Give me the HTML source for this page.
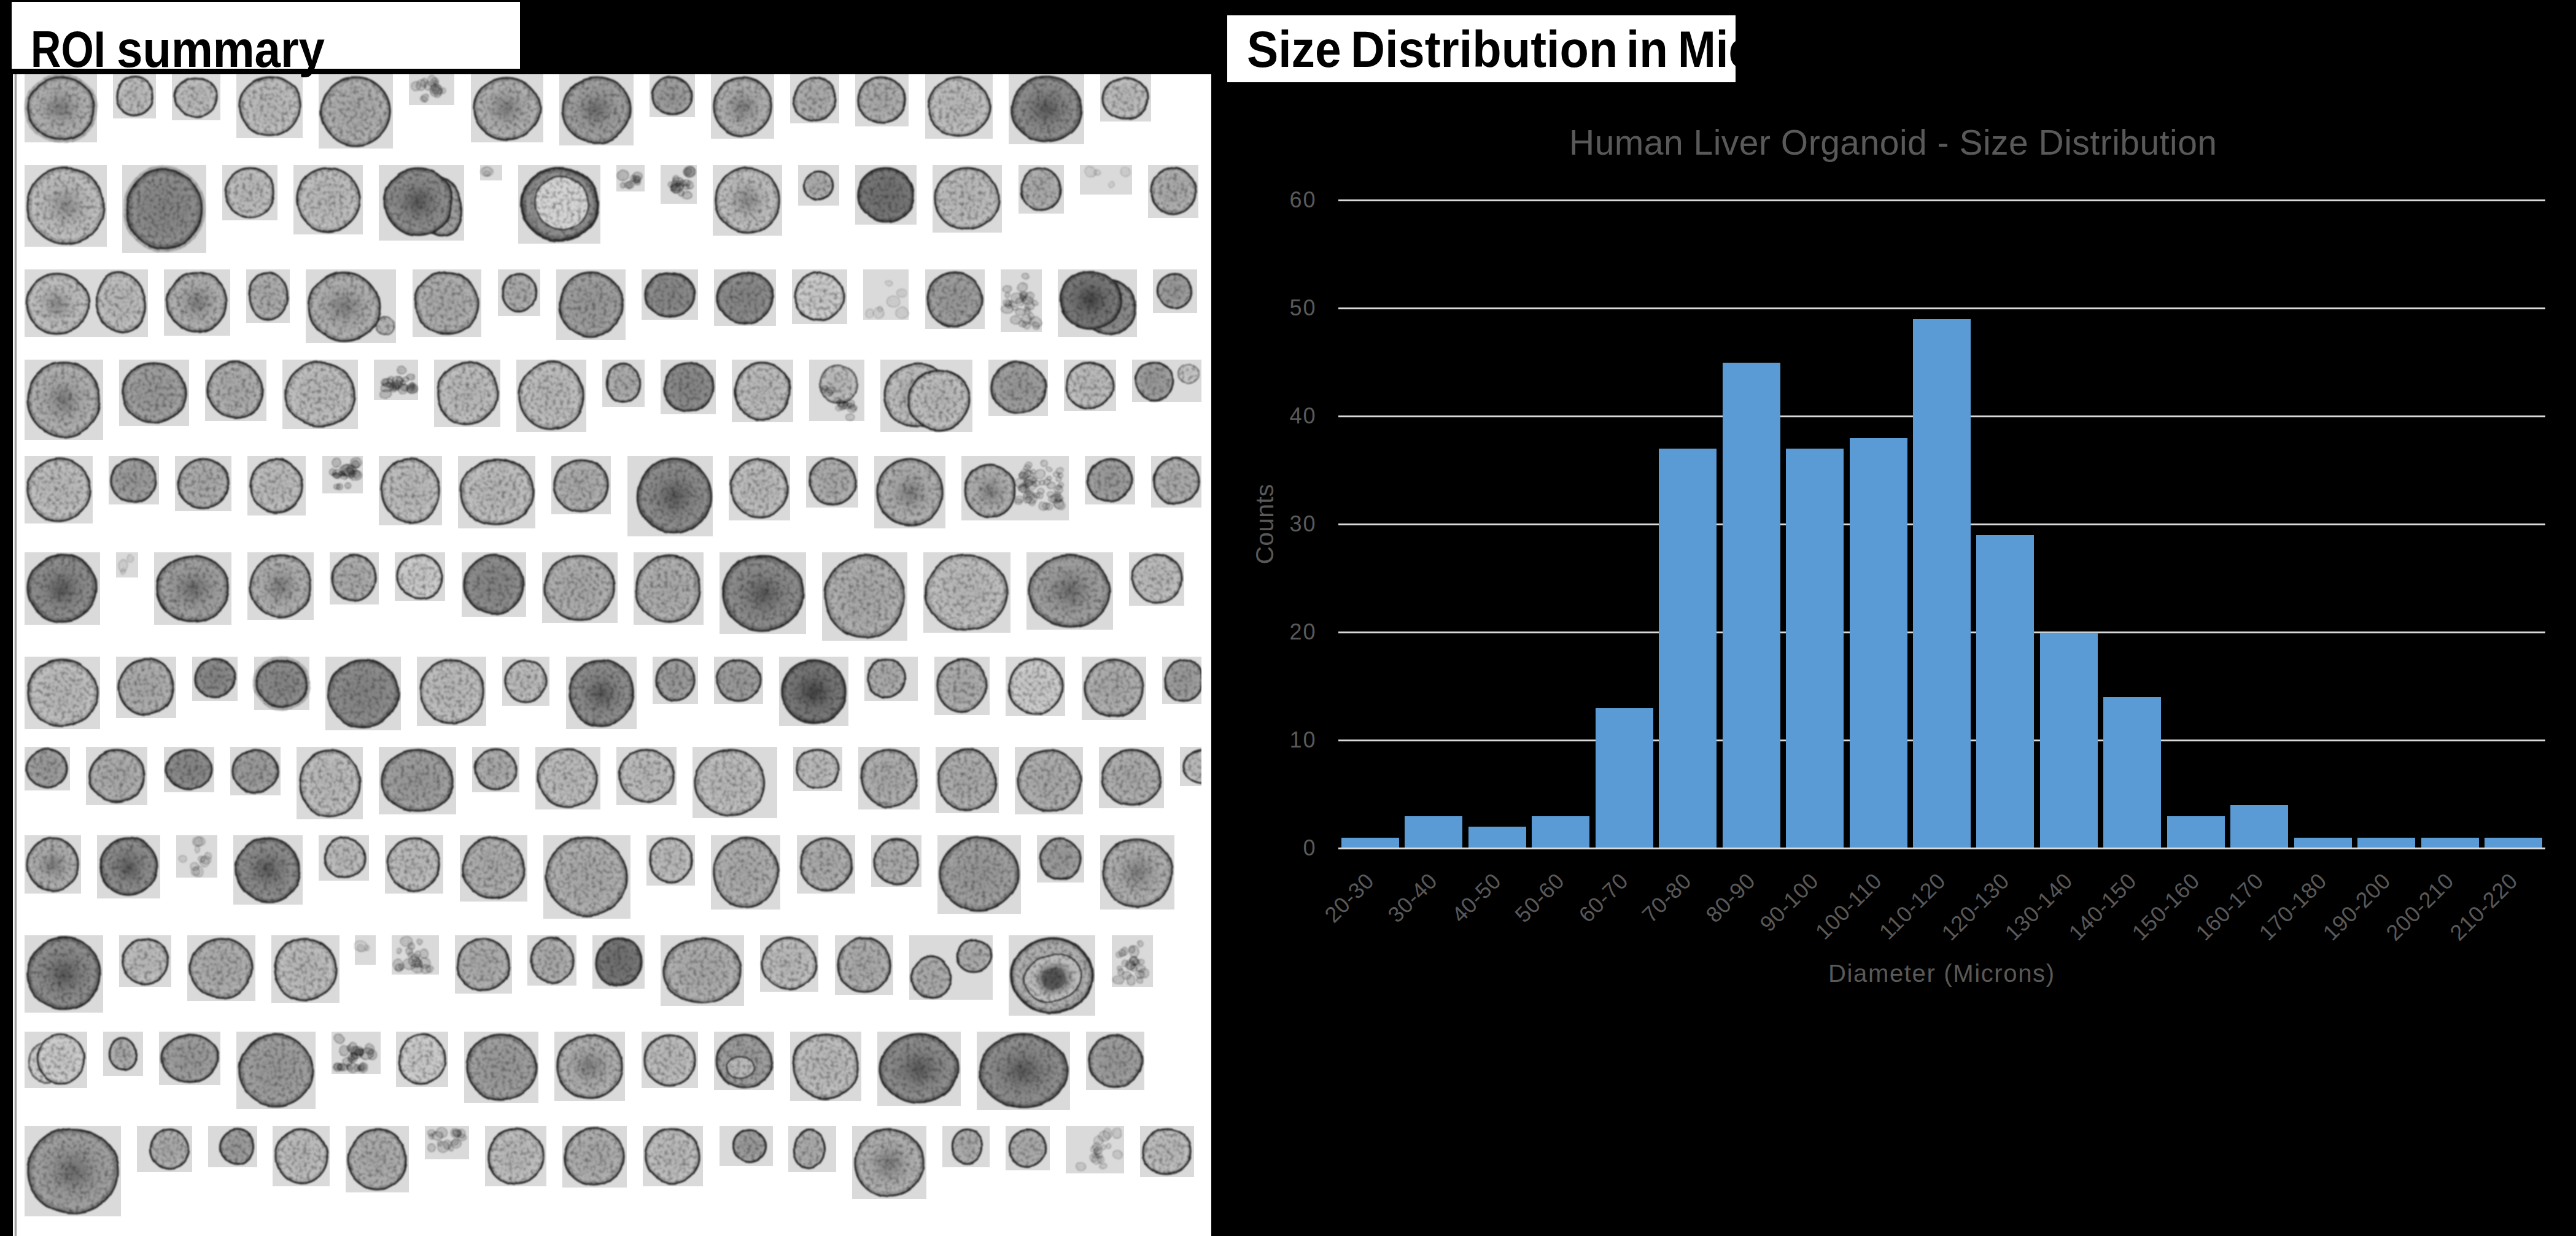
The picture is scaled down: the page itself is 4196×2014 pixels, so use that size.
<!DOCTYPE html>
<html><head><meta charset="utf-8"><title>ROI summary</title>
<style>
html,body{margin:0;padding:0;background:#000;}
body{width:4196px;height:2014px;position:relative;overflow:hidden;font-family:"Liberation Sans",sans-serif;}
.abs{position:absolute}
#roibox{position:absolute;left:19px;top:3px;width:828px;height:109px;background:#fff}
#panel{position:absolute;left:21px;top:121px;width:1952px;height:1893px;background:#fff}
#vline{position:absolute;left:22px;top:121px;width:5px;height:1893px;background:linear-gradient(90deg,#fff 0,#d8d8d8 35%,#9c9c9c 62%,#999 90%,#e8e8e8 100%)}
#roitxt{position:absolute;left:50px;top:0;font-weight:bold;font-size:81px;line-height:113px;white-space:nowrap;color:#000;transform-origin:0 0;transform:scaleX(.9097);top:24.8px}
#sdbox{position:absolute;left:1999px;top:25px;width:828px;height:109px;background:#fff;overflow:hidden}
#sdtxt{position:absolute;left:32px;top:-1px;font-weight:bold;font-size:83px;line-height:113px;white-space:nowrap;color:#000;transform-origin:0 0;transform:scaleX(.906)}
#ctitle{position:absolute;left:2556px;top:194px;letter-spacing:.49px;font-size:57px;line-height:76px;color:#595959;white-space:nowrap;transform-origin:0 0}
.hw{position:absolute;font-weight:bold;font-size:83px;line-height:113px;white-space:nowrap;color:#000;transform-origin:0 0}
.gl{position:absolute;left:2180px;width:1966px;height:3px;background:#d9d9d9}
.yl{position:absolute;left:2044.5px;width:100px;text-align:right;letter-spacing:2px;font-size:36px;line-height:48px;color:#595959}
.bar{position:absolute;background:#5b9bd5}
.xl{position:absolute;letter-spacing:.8px;font-size:36px;line-height:40px;color:#595959;white-space:nowrap;transform-origin:100% 50%;transform:rotate(-45deg)}
#xt{position:absolute;left:2978px;top:1558.5px;letter-spacing:1.65px;font-size:40px;line-height:54px;color:#595959;white-space:nowrap;transform-origin:0 0}
#yt{position:absolute;left:2059.5px;top:854px;letter-spacing:.2px;font-size:41px;line-height:54px;color:#595959;white-space:nowrap;transform:translate(-50%,-50%) rotate(-90deg)}
</style></head><body>
<div id="roibox"></div>
<div id="panel"></div>
<div id="vline"></div>
<svg class="abs" style="left:0;top:0" width="1980" height="2014" viewBox="0 0 1980 2014">
<defs><radialGradient id="g0"><stop offset="0" stop-color="#c2c2c2"/><stop offset=".6" stop-color="#c8c8c8"/><stop offset=".86" stop-color="#d0d0d0"/><stop offset=".95" stop-color="#aaaaaa"/><stop offset="1" stop-color="#8c8c8c"/></radialGradient><radialGradient id="c0"><stop offset="0" stop-color="#969696"/><stop offset=".22" stop-color="#aaaaaa"/><stop offset=".5" stop-color="#c2c2c2"/><stop offset=".86" stop-color="#d0d0d0"/><stop offset=".95" stop-color="#aaaaaa"/><stop offset="1" stop-color="#8c8c8c"/></radialGradient><radialGradient id="g1"><stop offset="0" stop-color="#b3b3b3"/><stop offset=".6" stop-color="#b9b9b9"/><stop offset=".86" stop-color="#c1c1c1"/><stop offset=".95" stop-color="#9b9b9b"/><stop offset="1" stop-color="#7d7d7d"/></radialGradient><radialGradient id="c1"><stop offset="0" stop-color="#878787"/><stop offset=".22" stop-color="#9b9b9b"/><stop offset=".5" stop-color="#b3b3b3"/><stop offset=".86" stop-color="#c1c1c1"/><stop offset=".95" stop-color="#9b9b9b"/><stop offset="1" stop-color="#7d7d7d"/></radialGradient><radialGradient id="g2"><stop offset="0" stop-color="#a4a4a4"/><stop offset=".6" stop-color="#aaaaaa"/><stop offset=".86" stop-color="#b2b2b2"/><stop offset=".95" stop-color="#8c8c8c"/><stop offset="1" stop-color="#6e6e6e"/></radialGradient><radialGradient id="c2"><stop offset="0" stop-color="#787878"/><stop offset=".22" stop-color="#8c8c8c"/><stop offset=".5" stop-color="#a4a4a4"/><stop offset=".86" stop-color="#b2b2b2"/><stop offset=".95" stop-color="#8c8c8c"/><stop offset="1" stop-color="#6e6e6e"/></radialGradient><radialGradient id="g3"><stop offset="0" stop-color="#949494"/><stop offset=".6" stop-color="#9a9a9a"/><stop offset=".86" stop-color="#a2a2a2"/><stop offset=".95" stop-color="#7c7c7c"/><stop offset="1" stop-color="#5e5e5e"/></radialGradient><radialGradient id="c3"><stop offset="0" stop-color="#686868"/><stop offset=".22" stop-color="#7c7c7c"/><stop offset=".5" stop-color="#949494"/><stop offset=".86" stop-color="#a2a2a2"/><stop offset=".95" stop-color="#7c7c7c"/><stop offset="1" stop-color="#5e5e5e"/></radialGradient><radialGradient id="g4"><stop offset="0" stop-color="#818181"/><stop offset=".6" stop-color="#878787"/><stop offset=".86" stop-color="#8f8f8f"/><stop offset=".95" stop-color="#696969"/><stop offset="1" stop-color="#4b4b4b"/></radialGradient><radialGradient id="c4"><stop offset="0" stop-color="#555555"/><stop offset=".22" stop-color="#696969"/><stop offset=".5" stop-color="#818181"/><stop offset=".86" stop-color="#8f8f8f"/><stop offset=".95" stop-color="#696969"/><stop offset="1" stop-color="#4b4b4b"/></radialGradient><radialGradient id="g5"><stop offset="0" stop-color="#6c6c6c"/><stop offset=".6" stop-color="#727272"/><stop offset=".86" stop-color="#7a7a7a"/><stop offset=".95" stop-color="#545454"/><stop offset="1" stop-color="#363636"/></radialGradient><radialGradient id="c5"><stop offset="0" stop-color="#404040"/><stop offset=".22" stop-color="#545454"/><stop offset=".5" stop-color="#6c6c6c"/><stop offset=".86" stop-color="#7a7a7a"/><stop offset=".95" stop-color="#545454"/><stop offset="1" stop-color="#363636"/></radialGradient><radialGradient id="blob"><stop offset="0" stop-color="#000" stop-opacity=".55"/><stop offset=".6" stop-color="#000" stop-opacity=".3"/><stop offset="1" stop-color="#000" stop-opacity="0"/></radialGradient><filter id="grain" x="0" y="0" width="100%" height="100%" filterUnits="userSpaceOnUse" color-interpolation-filters="sRGB">
<feTurbulence type="fractalNoise" baseFrequency="0.018" numOctaves="2" seed="11" result="lf"/>
<feDisplacementMap in="SourceGraphic" in2="lf" scale="7" xChannelSelector="R" yChannelSelector="G" result="sg"/>
<feTurbulence type="fractalNoise" baseFrequency="0.17" numOctaves="3" seed="3" result="n"/>
<feColorMatrix in="n" type="matrix" values="1.0 0 0 0 0.45  1.0 0 0 0 0.45  1.0 0 0 0 0.45  0 0 0 0 1" result="gn"/>
<feComposite in="gn" in2="sg" operator="in" result="gn2"/>
<feBlend in="sg" in2="gn2" mode="multiply" result="m"/>
<feGaussianBlur in="m" stdDeviation="0.9"/>
</filter><clipPath id="pc"><rect x="21" y="121" width="1936" height="1893"/></clipPath></defs>
<g clip-path="url(#pc)"><g fill="#dadada"><rect x="40" y="121" width="118" height="111"/><rect x="184" y="121" width="70" height="72"/><rect x="280" y="121" width="79" height="75"/><rect x="385" y="121" width="108" height="104"/><rect x="519" y="121" width="121" height="121"/><rect x="666" y="121" width="74" height="50"/><rect x="767" y="121" width="118" height="111"/><rect x="911" y="121" width="121" height="116"/><rect x="1058" y="121" width="74" height="70"/><rect x="1158" y="121" width="103" height="105"/><rect x="1287" y="121" width="80" height="80"/><rect x="1393" y="121" width="87" height="85"/><rect x="1507" y="121" width="110" height="105"/><rect x="1643" y="121" width="123" height="114"/><rect x="1792" y="121" width="83" height="77"/><rect x="40" y="269" width="134" height="133"/><rect x="199" y="269" width="137" height="143"/><rect x="362" y="269" width="90" height="90"/><rect x="478" y="269" width="113" height="113"/><rect x="617" y="269" width="139" height="123"/><rect x="782" y="269" width="36" height="25"/><rect x="844" y="269" width="134" height="128"/><rect x="1004" y="269" width="46" height="43"/><rect x="1076" y="269" width="59" height="63"/><rect x="1161" y="269" width="113" height="115"/><rect x="1300" y="269" width="67" height="66"/><rect x="1393" y="269" width="100" height="97"/><rect x="1519" y="269" width="113" height="110"/><rect x="1659" y="269" width="74" height="79"/><rect x="1759" y="269" width="85" height="48"/><rect x="1870" y="269" width="82" height="86"/><rect x="40" y="439" width="201" height="110"/><rect x="267" y="439" width="108" height="108"/><rect x="401" y="439" width="71" height="87"/><rect x="498" y="439" width="147" height="120"/><rect x="672" y="439" width="112" height="110"/><rect x="811" y="439" width="69" height="76"/><rect x="906" y="439" width="113" height="115"/><rect x="1045" y="439" width="92" height="82"/><rect x="1163" y="439" width="101" height="92"/><rect x="1290" y="439" width="90" height="89"/><rect x="1406" y="439" width="74" height="82"/><rect x="1507" y="439" width="97" height="97"/><rect x="1630" y="439" width="67" height="102"/><rect x="1723" y="439" width="129" height="110"/><rect x="1878" y="439" width="72" height="71"/><rect x="40" y="586" width="128" height="131"/><rect x="194" y="586" width="114" height="108"/><rect x="334" y="586" width="100" height="100"/><rect x="460" y="586" width="123" height="113"/><rect x="609" y="586" width="72" height="66"/><rect x="707" y="586" width="108" height="110"/><rect x="841" y="586" width="114" height="118"/><rect x="981" y="586" width="69" height="77"/><rect x="1076" y="586" width="90" height="89"/><rect x="1192" y="586" width="100" height="102"/><rect x="1318" y="586" width="90" height="100"/><rect x="1434" y="586" width="150" height="118"/><rect x="1610" y="586" width="97" height="92"/><rect x="1733" y="586" width="85" height="84"/><rect x="1844" y="586" width="113" height="69"/><rect x="40" y="743" width="111" height="110"/><rect x="177" y="743" width="82" height="79"/><rect x="285" y="743" width="92" height="90"/><rect x="403" y="743" width="95" height="97"/><rect x="525" y="743" width="66" height="61"/><rect x="617" y="743" width="103" height="113"/><rect x="746" y="743" width="126" height="118"/><rect x="898" y="743" width="97" height="95"/><rect x="1022" y="743" width="139" height="131"/><rect x="1187" y="743" width="100" height="105"/><rect x="1313" y="743" width="85" height="84"/><rect x="1424" y="743" width="116" height="118"/><rect x="1566" y="743" width="175" height="105"/><rect x="1767" y="743" width="82" height="79"/><rect x="1875" y="743" width="82" height="84"/><rect x="40" y="900" width="123" height="118"/><rect x="189" y="900" width="36" height="41"/><rect x="251" y="900" width="126" height="118"/><rect x="403" y="900" width="108" height="110"/><rect x="537" y="900" width="80" height="85"/><rect x="643" y="900" width="82" height="79"/><rect x="752" y="900" width="105" height="105"/><rect x="883" y="900" width="123" height="115"/><rect x="1032" y="900" width="114" height="118"/><rect x="1172" y="900" width="141" height="133"/><rect x="1339" y="900" width="139" height="144"/><rect x="1504" y="900" width="142" height="131"/><rect x="1672" y="900" width="141" height="126"/><rect x="1839" y="900" width="90" height="87"/><rect x="40" y="1070" width="123" height="118"/><rect x="189" y="1070" width="98" height="100"/><rect x="313" y="1070" width="74" height="72"/><rect x="414" y="1070" width="90" height="87"/><rect x="530" y="1070" width="123" height="120"/><rect x="679" y="1070" width="113" height="113"/><rect x="818" y="1070" width="77" height="80"/><rect x="922" y="1070" width="115" height="118"/><rect x="1063" y="1070" width="74" height="77"/><rect x="1163" y="1070" width="80" height="77"/><rect x="1269" y="1070" width="113" height="113"/><rect x="1408" y="1070" width="87" height="72"/><rect x="1522" y="1070" width="90" height="95"/><rect x="1638" y="1070" width="97" height="97"/><rect x="1762" y="1070" width="105" height="103"/><rect x="1893" y="1070" width="70" height="77"/><rect x="40" y="1217" width="74" height="71"/><rect x="140" y="1217" width="100" height="95"/><rect x="267" y="1217" width="82" height="74"/><rect x="375" y="1217" width="82" height="79"/><rect x="483" y="1217" width="108" height="118"/><rect x="617" y="1217" width="126" height="110"/><rect x="769" y="1217" width="77" height="74"/><rect x="872" y="1217" width="106" height="102"/><rect x="1004" y="1217" width="98" height="95"/><rect x="1128" y="1217" width="138" height="116"/><rect x="1292" y="1217" width="80" height="72"/><rect x="1398" y="1217" width="100" height="102"/><rect x="1524" y="1217" width="103" height="108"/><rect x="1653" y="1217" width="111" height="110"/><rect x="1790" y="1217" width="106" height="100"/><rect x="1922" y="1217" width="80" height="64"/><rect x="40" y="1361" width="92" height="95"/><rect x="158" y="1361" width="103" height="103"/><rect x="287" y="1361" width="67" height="69"/><rect x="380" y="1361" width="113" height="113"/><rect x="519" y="1361" width="82" height="74"/><rect x="627" y="1361" width="95" height="95"/><rect x="749" y="1361" width="110" height="108"/><rect x="885" y="1361" width="142" height="136"/><rect x="1053" y="1361" width="79" height="82"/><rect x="1158" y="1361" width="113" height="121"/><rect x="1298" y="1361" width="95" height="95"/><rect x="1419" y="1361" width="82" height="84"/><rect x="1527" y="1361" width="136" height="128"/><rect x="1689" y="1361" width="77" height="77"/><rect x="1792" y="1361" width="121" height="121"/><rect x="40" y="1524" width="128" height="126"/><rect x="194" y="1524" width="85" height="84"/><rect x="305" y="1524" width="111" height="107"/><rect x="442" y="1524" width="111" height="110"/><rect x="578" y="1524" width="34" height="48"/><rect x="638" y="1524" width="77" height="64"/><rect x="741" y="1524" width="93" height="95"/><rect x="859" y="1524" width="80" height="82"/><rect x="965" y="1524" width="85" height="87"/><rect x="1076" y="1524" width="136" height="115"/><rect x="1238" y="1524" width="95" height="92"/><rect x="1360" y="1524" width="95" height="97"/><rect x="1481" y="1524" width="136" height="105"/><rect x="1643" y="1524" width="141" height="131"/><rect x="1811" y="1524" width="67" height="84"/><rect x="40" y="1681" width="102" height="92"/><rect x="168" y="1681" width="65" height="72"/><rect x="259" y="1681" width="100" height="87"/><rect x="385" y="1681" width="129" height="126"/><rect x="540" y="1681" width="80" height="69"/><rect x="645" y="1681" width="85" height="90"/><rect x="756" y="1681" width="121" height="116"/><rect x="903" y="1681" width="115" height="113"/><rect x="1045" y="1681" width="92" height="92"/><rect x="1163" y="1681" width="98" height="95"/><rect x="1287" y="1681" width="116" height="113"/><rect x="1429" y="1681" width="136" height="121"/><rect x="1591" y="1681" width="152" height="128"/><rect x="1769" y="1681" width="95" height="95"/><rect x="40" y="1835" width="157" height="147"/><rect x="223" y="1835" width="90" height="75"/><rect x="339" y="1835" width="80" height="67"/><rect x="444" y="1835" width="93" height="98"/><rect x="563" y="1835" width="103" height="108"/><rect x="692" y="1835" width="72" height="54"/><rect x="790" y="1835" width="100" height="98"/><rect x="916" y="1835" width="105" height="100"/><rect x="1047" y="1835" width="98" height="98"/><rect x="1172" y="1835" width="87" height="65"/><rect x="1284" y="1835" width="78" height="75"/><rect x="1388" y="1835" width="121" height="119"/><rect x="1535" y="1835" width="77" height="67"/><rect x="1638" y="1835" width="72" height="72"/><rect x="1736" y="1835" width="95" height="77"/><rect x="1857" y="1835" width="88" height="83"/></g><g filter="url(#grain)">
<ellipse cx="99.0" cy="176.5" rx="56.8" ry="53.3" fill="none" stroke="#666" stroke-width="7" opacity=".45"/>
<ellipse cx="99.0" cy="176.5" rx="54.3" ry="50.8" fill="url(#c2)" stroke="#2e2e2e" stroke-width="2.9"/>
<ellipse cx="219.0" cy="157.0" rx="30.3" ry="31.3" fill="url(#g1)" stroke="#2e2e2e" stroke-width="2.9"/>
<ellipse cx="319.5" cy="158.5" rx="34.8" ry="32.8" fill="url(#g1)" stroke="#2e2e2e" stroke-width="2.9"/>
<ellipse cx="439.0" cy="173.0" rx="49.3" ry="47.3" fill="url(#g1)" stroke="#2e2e2e" stroke-width="2.9"/>
<ellipse cx="579.5" cy="181.5" rx="55.8" ry="55.8" fill="url(#g2)" stroke="#2e2e2e" stroke-width="2.9"/>
<ellipse cx="696.9" cy="139.4" rx="6.6" ry="6.7" fill="#000" fill-opacity="0.15" stroke="#000" stroke-opacity="0.27" stroke-width="1.5"/>
<ellipse cx="720.7" cy="148.3" rx="4.3" ry="4.2" fill="#000" fill-opacity="0.15" stroke="#000" stroke-opacity="0.27" stroke-width="1.5"/>
<ellipse cx="707.9" cy="145.4" rx="7.4" ry="6.1" fill="#000" fill-opacity="0.15" stroke="#000" stroke-opacity="0.27" stroke-width="1.5"/>
<ellipse cx="709.9" cy="149.2" rx="9.1" ry="7.1" fill="#000" fill-opacity="0.15" stroke="#000" stroke-opacity="0.27" stroke-width="1.5"/>
<ellipse cx="685.1" cy="137.6" rx="7.3" ry="8.9" fill="#000" fill-opacity="0.15" stroke="#000" stroke-opacity="0.27" stroke-width="1.5"/>
<ellipse cx="710.2" cy="135.5" rx="4.1" ry="4.7" fill="#000" fill-opacity="0.15" stroke="#000" stroke-opacity="0.27" stroke-width="1.5"/>
<ellipse cx="689.2" cy="160.0" rx="5.3" ry="4.9" fill="#000" fill-opacity="0.15" stroke="#000" stroke-opacity="0.27" stroke-width="1.5"/>
<ellipse cx="689.9" cy="134.3" rx="5.6" ry="6.7" fill="#000" fill-opacity="0.15" stroke="#000" stroke-opacity="0.27" stroke-width="1.5"/>
<ellipse cx="712.1" cy="146.2" rx="7.5" ry="7.4" fill="#000" fill-opacity="0.15" stroke="#000" stroke-opacity="0.27" stroke-width="1.5"/>
<ellipse cx="691.7" cy="157.9" rx="6.0" ry="6.3" fill="#000" fill-opacity="0.15" stroke="#000" stroke-opacity="0.27" stroke-width="1.5"/>
<ellipse cx="708.5" cy="132.0" rx="5.7" ry="5.2" fill="#000" fill-opacity="0.15" stroke="#000" stroke-opacity="0.27" stroke-width="1.5"/>
<ellipse cx="677.0" cy="139.3" rx="7.2" ry="7.6" fill="#000" fill-opacity="0.15" stroke="#000" stroke-opacity="0.27" stroke-width="1.5"/>
<ellipse cx="709.7" cy="142.5" rx="7.2" ry="6.1" fill="#000" fill-opacity="0.15" stroke="#000" stroke-opacity="0.27" stroke-width="1.5"/>
<ellipse cx="712.8" cy="154.6" rx="4.8" ry="4.2" fill="#000" fill-opacity="0.15" stroke="#000" stroke-opacity="0.27" stroke-width="1.5"/>
<ellipse cx="703.0" cy="132.0" rx="8.0" ry="8.4" fill="#000" fill-opacity="0.15" stroke="#000" stroke-opacity="0.27" stroke-width="1.5"/>
<ellipse cx="826.0" cy="176.5" rx="54.3" ry="50.8" fill="url(#c2)" stroke="#2e2e2e" stroke-width="2.9"/>
<ellipse cx="971.5" cy="179.0" rx="55.8" ry="53.3" fill="url(#c3)" stroke="#2e2e2e" stroke-width="2.9"/>
<ellipse cx="1095.0" cy="156.0" rx="32.3" ry="30.3" fill="url(#g3)" stroke="#2e2e2e" stroke-width="2.9"/>
<ellipse cx="1209.5" cy="173.5" rx="46.8" ry="47.8" fill="url(#c2)" stroke="#2e2e2e" stroke-width="2.9"/>
<ellipse cx="1327.0" cy="161.0" rx="35.3" ry="35.3" fill="url(#g2)" stroke="#2e2e2e" stroke-width="2.9"/>
<ellipse cx="1436.5" cy="163.5" rx="38.8" ry="37.8" fill="url(#g2)" stroke="#2e2e2e" stroke-width="2.9"/>
<ellipse cx="1562.0" cy="173.5" rx="50.3" ry="47.8" fill="url(#g1)" stroke="#2e2e2e" stroke-width="2.9"/>
<ellipse cx="1704.5" cy="178.0" rx="56.8" ry="52.3" fill="url(#c4)" stroke="#2e2e2e" stroke-width="2.9"/>
<ellipse cx="1833.5" cy="159.5" rx="36.8" ry="33.8" fill="url(#g1)" stroke="#2e2e2e" stroke-width="2.9"/>
<ellipse cx="107.0" cy="335.5" rx="62.3" ry="61.8" fill="url(#c1)" stroke="#2e2e2e" stroke-width="2.9"/>
<ellipse cx="267.5" cy="340.5" rx="63.8" ry="66.8" fill="none" stroke="#666" stroke-width="7" opacity=".45"/>
<ellipse cx="267.5" cy="340.5" rx="61.3" ry="64.3" fill="url(#g4)" stroke="#2e2e2e" stroke-width="2.9"/>
<ellipse cx="407.0" cy="314.0" rx="40.3" ry="40.3" fill="url(#g1)" stroke="#2e2e2e" stroke-width="2.9"/>
<ellipse cx="534.5" cy="325.5" rx="51.8" ry="51.8" fill="url(#g1)" stroke="#2e2e2e" stroke-width="2.9"/>
<ellipse cx="713.0" cy="335.0" rx="38.0" ry="50.0" fill="url(#g3)" stroke="#2e2e2e" stroke-width="2.9" transform="rotate(-20 713.0 335.0)"/>
<ellipse cx="681.0" cy="329.0" rx="55.0" ry="55.0" fill="url(#c4)" stroke="#2e2e2e" stroke-width="2.9"/>
<ellipse cx="793.0" cy="280.0" rx="10.4" ry="8.2" fill="#000" fill-opacity="0.08" stroke="#000" stroke-opacity="0.20" stroke-width="1.5"/>
<ellipse cx="793.0" cy="283.0" rx="5.0" ry="4.3" fill="#000" fill-opacity="0.08" stroke="#000" stroke-opacity="0.20" stroke-width="1.5"/>
<ellipse cx="793.0" cy="280.0" rx="7.6" ry="8.1" fill="#000" fill-opacity="0.08" stroke="#000" stroke-opacity="0.20" stroke-width="1.5"/>
<ellipse cx="911.0" cy="333.0" rx="62.0" ry="59.0" fill="url(#g4)" stroke="#2e2e2e" stroke-width="4"/>
<ellipse cx="915.0" cy="333.0" rx="43.0" ry="44.0" fill="#d4d4d4" stroke="#444" stroke-width="2.5" transform="rotate(-25 911.0 333.0)"/>
<ellipse cx="1038.3" cy="293.3" rx="4.2" ry="4.8" fill="#000" fill-opacity="0.19" stroke="#000" stroke-opacity="0.31" stroke-width="1.5"/>
<ellipse cx="1039.0" cy="298.0" rx="4.3" ry="4.6" fill="#000" fill-opacity="0.19" stroke="#000" stroke-opacity="0.31" stroke-width="1.5"/>
<ellipse cx="1015.0" cy="301.0" rx="4.5" ry="4.4" fill="#000" fill-opacity="0.19" stroke="#000" stroke-opacity="0.31" stroke-width="1.5"/>
<ellipse cx="1015.0" cy="285.1" rx="10.0" ry="8.1" fill="#000" fill-opacity="0.19" stroke="#000" stroke-opacity="0.31" stroke-width="1.5"/>
<ellipse cx="1024.1" cy="301.0" rx="7.2" ry="5.8" fill="#000" fill-opacity="0.19" stroke="#000" stroke-opacity="0.31" stroke-width="1.5"/>
<ellipse cx="1032.3" cy="290.1" rx="4.5" ry="4.9" fill="#000" fill-opacity="0.19" stroke="#000" stroke-opacity="0.31" stroke-width="1.5"/>
<ellipse cx="1027.5" cy="301.0" rx="6.5" ry="6.9" fill="#000" fill-opacity="0.19" stroke="#000" stroke-opacity="0.31" stroke-width="1.5"/>
<ellipse cx="1037.7" cy="291.9" rx="6.3" ry="5.8" fill="#000" fill-opacity="0.19" stroke="#000" stroke-opacity="0.31" stroke-width="1.5"/>
<ellipse cx="1039.0" cy="287.1" rx="7.3" ry="6.6" fill="#000" fill-opacity="0.19" stroke="#000" stroke-opacity="0.31" stroke-width="1.5"/>
<ellipse cx="1124.0" cy="280.5" rx="10.0" ry="8.4" fill="#000" fill-opacity="0.19" stroke="#000" stroke-opacity="0.31" stroke-width="1.5"/>
<ellipse cx="1096.0" cy="305.6" rx="5.0" ry="4.5" fill="#000" fill-opacity="0.19" stroke="#000" stroke-opacity="0.31" stroke-width="1.5"/>
<ellipse cx="1112.1" cy="298.2" rx="4.4" ry="5.0" fill="#000" fill-opacity="0.19" stroke="#000" stroke-opacity="0.31" stroke-width="1.5"/>
<ellipse cx="1104.7" cy="300.2" rx="3.5" ry="4.0" fill="#000" fill-opacity="0.19" stroke="#000" stroke-opacity="0.31" stroke-width="1.5"/>
<ellipse cx="1118.0" cy="304.6" rx="5.1" ry="4.1" fill="#000" fill-opacity="0.19" stroke="#000" stroke-opacity="0.31" stroke-width="1.5"/>
<ellipse cx="1101.1" cy="290.4" rx="5.1" ry="5.3" fill="#000" fill-opacity="0.19" stroke="#000" stroke-opacity="0.31" stroke-width="1.5"/>
<ellipse cx="1102.4" cy="301.8" rx="10.7" ry="8.2" fill="#000" fill-opacity="0.19" stroke="#000" stroke-opacity="0.31" stroke-width="1.5"/>
<ellipse cx="1091.2" cy="299.7" rx="3.8" ry="4.4" fill="#000" fill-opacity="0.19" stroke="#000" stroke-opacity="0.31" stroke-width="1.5"/>
<ellipse cx="1101.1" cy="305.9" rx="7.2" ry="8.1" fill="#000" fill-opacity="0.19" stroke="#000" stroke-opacity="0.31" stroke-width="1.5"/>
<ellipse cx="1124.0" cy="301.4" rx="5.8" ry="6.6" fill="#000" fill-opacity="0.19" stroke="#000" stroke-opacity="0.31" stroke-width="1.5"/>
<ellipse cx="1104.0" cy="295.1" rx="8.6" ry="6.6" fill="#000" fill-opacity="0.19" stroke="#000" stroke-opacity="0.31" stroke-width="1.5"/>
<ellipse cx="1121.4" cy="280.0" rx="5.2" ry="5.3" fill="#000" fill-opacity="0.19" stroke="#000" stroke-opacity="0.31" stroke-width="1.5"/>
<ellipse cx="1119.3" cy="318.5" rx="7.9" ry="6.7" fill="#000" fill-opacity="0.19" stroke="#000" stroke-opacity="0.31" stroke-width="1.5"/>
<ellipse cx="1102.3" cy="305.4" rx="10.4" ry="8.1" fill="#000" fill-opacity="0.19" stroke="#000" stroke-opacity="0.31" stroke-width="1.5"/>
<ellipse cx="1122.6" cy="280.0" rx="9.5" ry="8.1" fill="#000" fill-opacity="0.19" stroke="#000" stroke-opacity="0.31" stroke-width="1.5"/>
<ellipse cx="1109.7" cy="314.1" rx="4.7" ry="5.8" fill="#000" fill-opacity="0.19" stroke="#000" stroke-opacity="0.31" stroke-width="1.5"/>
<ellipse cx="1118.5" cy="298.1" rx="6.1" ry="5.3" fill="#000" fill-opacity="0.19" stroke="#000" stroke-opacity="0.31" stroke-width="1.5"/>
<ellipse cx="1217.5" cy="326.5" rx="51.8" ry="52.8" fill="url(#c1)" stroke="#2e2e2e" stroke-width="2.9"/>
<ellipse cx="1333.5" cy="302.0" rx="23.3" ry="22.8" fill="url(#g2)" stroke="#2e2e2e" stroke-width="2.9"/>
<ellipse cx="1443.0" cy="317.5" rx="45.3" ry="43.8" fill="url(#g5)" stroke="#2e2e2e" stroke-width="2.9"/>
<ellipse cx="1575.5" cy="324.0" rx="51.8" ry="50.3" fill="url(#g1)" stroke="#2e2e2e" stroke-width="2.9"/>
<ellipse cx="1696.0" cy="308.5" rx="32.3" ry="34.8" fill="url(#g2)" stroke="#2e2e2e" stroke-width="2.9"/>
<ellipse cx="1833.0" cy="280.0" rx="8.6" ry="8.8" fill="#000" fill-opacity="0.08" stroke="#000" stroke-opacity="0.20" stroke-width="1.5"/>
<ellipse cx="1810.4" cy="300.7" rx="4.5" ry="5.0" fill="#000" fill-opacity="0.08" stroke="#000" stroke-opacity="0.20" stroke-width="1.5"/>
<ellipse cx="1776.6" cy="280.0" rx="8.5" ry="8.2" fill="#000" fill-opacity="0.08" stroke="#000" stroke-opacity="0.20" stroke-width="1.5"/>
<ellipse cx="1786.8" cy="280.0" rx="5.0" ry="4.4" fill="#000" fill-opacity="0.08" stroke="#000" stroke-opacity="0.20" stroke-width="1.5"/>
<ellipse cx="1911.0" cy="312.0" rx="36.3" ry="38.3" fill="url(#g2)" stroke="#2e2e2e" stroke-width="2.9"/>
<ellipse cx="94.0" cy="495.0" rx="50.0" ry="49.0" fill="url(#c1)" stroke="#2e2e2e" stroke-width="2.9"/>
<ellipse cx="197.0" cy="493.0" rx="40.0" ry="50.0" fill="url(#g1)" stroke="#2e2e2e" stroke-width="2.9" transform="rotate(-12 197.0 493.0)"/>
<ellipse cx="321.0" cy="493.0" rx="49.3" ry="49.3" fill="url(#c2)" stroke="#2e2e2e" stroke-width="2.9"/>
<ellipse cx="436.5" cy="482.5" rx="30.8" ry="38.8" fill="url(#g2)" stroke="#2e2e2e" stroke-width="2.9"/>
<ellipse cx="626.0" cy="531.0" rx="18.0" ry="16.0" fill="url(#blob)" opacity="1"/>
<ellipse cx="626" cy="531" rx="15" ry="14" fill="#b5b5b5" stroke="#666" stroke-width="2"/>
<ellipse cx="561.0" cy="500.0" rx="58.0" ry="56.0" fill="url(#c2)" stroke="#2e2e2e" stroke-width="2.9"/>
<ellipse cx="728.0" cy="494.0" rx="51.3" ry="50.3" fill="url(#g2)" stroke="#2e2e2e" stroke-width="2.9"/>
<ellipse cx="845.5" cy="477.0" rx="27.3" ry="30.8" fill="url(#g2)" stroke="#2e2e2e" stroke-width="2.9"/>
<ellipse cx="962.5" cy="496.5" rx="51.8" ry="52.8" fill="url(#g3)" stroke="#2e2e2e" stroke-width="2.9"/>
<ellipse cx="1091.0" cy="480.0" rx="41.3" ry="36.3" fill="url(#g4)" stroke="#2e2e2e" stroke-width="2.9"/>
<ellipse cx="1213.5" cy="485.0" rx="45.8" ry="41.3" fill="url(#g4)" stroke="#2e2e2e" stroke-width="2.9"/>
<ellipse cx="1335.0" cy="483.5" rx="40.3" ry="39.8" fill="url(#g0)" stroke="#2e2e2e" stroke-width="2.9"/>
<ellipse cx="1447.9" cy="461.3" rx="5.8" ry="4.9" fill="#000" fill-opacity="0.08" stroke="#000" stroke-opacity="0.20" stroke-width="1.5"/>
<ellipse cx="1432.0" cy="510.0" rx="8.8" ry="8.9" fill="#000" fill-opacity="0.08" stroke="#000" stroke-opacity="0.20" stroke-width="1.5"/>
<ellipse cx="1417.0" cy="510.0" rx="6.7" ry="7.6" fill="#000" fill-opacity="0.08" stroke="#000" stroke-opacity="0.20" stroke-width="1.5"/>
<ellipse cx="1454.9" cy="491.8" rx="10.3" ry="8.5" fill="#000" fill-opacity="0.08" stroke="#000" stroke-opacity="0.20" stroke-width="1.5"/>
<ellipse cx="1468.0" cy="510.0" rx="10.0" ry="8.9" fill="#000" fill-opacity="0.08" stroke="#000" stroke-opacity="0.20" stroke-width="1.5"/>
<ellipse cx="1434.6" cy="503.7" rx="3.8" ry="4.7" fill="#000" fill-opacity="0.08" stroke="#000" stroke-opacity="0.20" stroke-width="1.5"/>
<ellipse cx="1469.0" cy="478.5" rx="8.4" ry="6.6" fill="#000" fill-opacity="0.08" stroke="#000" stroke-opacity="0.20" stroke-width="1.5"/>
<ellipse cx="1555.5" cy="487.5" rx="43.8" ry="43.8" fill="url(#g3)" stroke="#2e2e2e" stroke-width="2.9"/>
<ellipse cx="1667.9" cy="481.1" rx="5.0" ry="5.3" fill="#000" fill-opacity="0.15" stroke="#000" stroke-opacity="0.27" stroke-width="1.5"/>
<ellipse cx="1664.1" cy="528.5" rx="5.3" ry="5.3" fill="#000" fill-opacity="0.15" stroke="#000" stroke-opacity="0.27" stroke-width="1.5"/>
<ellipse cx="1686.0" cy="530.0" rx="5.9" ry="5.8" fill="#000" fill-opacity="0.15" stroke="#000" stroke-opacity="0.27" stroke-width="1.5"/>
<ellipse cx="1641.0" cy="469.5" rx="7.7" ry="6.1" fill="#000" fill-opacity="0.15" stroke="#000" stroke-opacity="0.27" stroke-width="1.5"/>
<ellipse cx="1643.0" cy="495.8" rx="5.4" ry="6.6" fill="#000" fill-opacity="0.15" stroke="#000" stroke-opacity="0.27" stroke-width="1.5"/>
<ellipse cx="1653.3" cy="501.8" rx="4.8" ry="4.0" fill="#000" fill-opacity="0.15" stroke="#000" stroke-opacity="0.27" stroke-width="1.5"/>
<ellipse cx="1671.3" cy="520.6" rx="8.2" ry="7.6" fill="#000" fill-opacity="0.15" stroke="#000" stroke-opacity="0.27" stroke-width="1.5"/>
<ellipse cx="1653.9" cy="522.3" rx="8.1" ry="6.8" fill="#000" fill-opacity="0.15" stroke="#000" stroke-opacity="0.27" stroke-width="1.5"/>
<ellipse cx="1679.0" cy="515.5" rx="4.9" ry="5.2" fill="#000" fill-opacity="0.15" stroke="#000" stroke-opacity="0.27" stroke-width="1.5"/>
<ellipse cx="1665.5" cy="467.2" rx="8.0" ry="6.8" fill="#000" fill-opacity="0.15" stroke="#000" stroke-opacity="0.27" stroke-width="1.5"/>
<ellipse cx="1677.6" cy="482.2" rx="7.4" ry="7.1" fill="#000" fill-opacity="0.15" stroke="#000" stroke-opacity="0.27" stroke-width="1.5"/>
<ellipse cx="1641.0" cy="493.2" rx="6.7" ry="6.3" fill="#000" fill-opacity="0.15" stroke="#000" stroke-opacity="0.27" stroke-width="1.5"/>
<ellipse cx="1641.0" cy="504.1" rx="9.3" ry="7.5" fill="#000" fill-opacity="0.15" stroke="#000" stroke-opacity="0.27" stroke-width="1.5"/>
<ellipse cx="1674.4" cy="489.3" rx="8.6" ry="6.8" fill="#000" fill-opacity="0.15" stroke="#000" stroke-opacity="0.27" stroke-width="1.5"/>
<ellipse cx="1667.5" cy="484.8" rx="4.7" ry="4.6" fill="#000" fill-opacity="0.15" stroke="#000" stroke-opacity="0.27" stroke-width="1.5"/>
<ellipse cx="1673.5" cy="504.1" rx="5.0" ry="4.4" fill="#000" fill-opacity="0.15" stroke="#000" stroke-opacity="0.27" stroke-width="1.5"/>
<ellipse cx="1670.0" cy="450.0" rx="5.5" ry="4.8" fill="#000" fill-opacity="0.15" stroke="#000" stroke-opacity="0.27" stroke-width="1.5"/>
<ellipse cx="1658.0" cy="484.6" rx="10.8" ry="8.4" fill="#000" fill-opacity="0.15" stroke="#000" stroke-opacity="0.27" stroke-width="1.5"/>
<ellipse cx="1670.3" cy="530.0" rx="6.3" ry="6.0" fill="#000" fill-opacity="0.15" stroke="#000" stroke-opacity="0.27" stroke-width="1.5"/>
<ellipse cx="1686.0" cy="493.1" rx="4.9" ry="4.8" fill="#000" fill-opacity="0.15" stroke="#000" stroke-opacity="0.27" stroke-width="1.5"/>
<ellipse cx="1648.2" cy="493.9" rx="4.8" ry="5.0" fill="#000" fill-opacity="0.15" stroke="#000" stroke-opacity="0.27" stroke-width="1.5"/>
<ellipse cx="1662.2" cy="491.3" rx="6.9" ry="6.8" fill="#000" fill-opacity="0.15" stroke="#000" stroke-opacity="0.27" stroke-width="1.5"/>
<ellipse cx="1677.1" cy="498.6" rx="7.5" ry="7.1" fill="#000" fill-opacity="0.15" stroke="#000" stroke-opacity="0.27" stroke-width="1.5"/>
<ellipse cx="1686.0" cy="524.0" rx="10.2" ry="7.9" fill="#000" fill-opacity="0.15" stroke="#000" stroke-opacity="0.27" stroke-width="1.5"/>
<ellipse cx="1672.8" cy="507.8" rx="5.0" ry="4.2" fill="#000" fill-opacity="0.15" stroke="#000" stroke-opacity="0.27" stroke-width="1.5"/>
<ellipse cx="1661.7" cy="508.9" rx="7.7" ry="6.1" fill="#000" fill-opacity="0.15" stroke="#000" stroke-opacity="0.27" stroke-width="1.5"/>
<ellipse cx="1668.0" cy="478.9" rx="6.0" ry="4.7" fill="#000" fill-opacity="0.15" stroke="#000" stroke-opacity="0.27" stroke-width="1.5"/>
<ellipse cx="1641.0" cy="479.8" rx="3.7" ry="4.4" fill="#000" fill-opacity="0.15" stroke="#000" stroke-opacity="0.27" stroke-width="1.5"/>
<ellipse cx="1807.0" cy="501.0" rx="42.0" ry="44.0" fill="url(#g4)" stroke="#2e2e2e" stroke-width="2.9"/>
<ellipse cx="1777.0" cy="489.0" rx="50.0" ry="46.0" fill="url(#c5)" stroke="#2e2e2e" stroke-width="2.9"/>
<ellipse cx="1914.0" cy="474.5" rx="27.8" ry="27.3" fill="url(#g3)" stroke="#2e2e2e" stroke-width="2.9"/>
<ellipse cx="104.0" cy="651.5" rx="59.3" ry="60.8" fill="url(#c2)" stroke="#2e2e2e" stroke-width="2.9"/>
<ellipse cx="251.0" cy="640.0" rx="52.3" ry="49.3" fill="url(#g3)" stroke="#2e2e2e" stroke-width="2.9"/>
<ellipse cx="384.0" cy="636.0" rx="45.3" ry="45.3" fill="url(#g2)" stroke="#2e2e2e" stroke-width="2.9"/>
<ellipse cx="521.5" cy="642.5" rx="56.8" ry="51.8" fill="url(#g1)" stroke="#2e2e2e" stroke-width="2.9"/>
<ellipse cx="670.0" cy="634.6" rx="8.6" ry="7.2" fill="#000" fill-opacity="0.19" stroke="#000" stroke-opacity="0.31" stroke-width="1.5"/>
<ellipse cx="670.0" cy="633.9" rx="5.3" ry="4.3" fill="#000" fill-opacity="0.19" stroke="#000" stroke-opacity="0.31" stroke-width="1.5"/>
<ellipse cx="632.1" cy="622.3" rx="8.5" ry="6.8" fill="#000" fill-opacity="0.19" stroke="#000" stroke-opacity="0.31" stroke-width="1.5"/>
<ellipse cx="646.2" cy="626.5" rx="6.1" ry="6.6" fill="#000" fill-opacity="0.19" stroke="#000" stroke-opacity="0.31" stroke-width="1.5"/>
<ellipse cx="655.1" cy="624.2" rx="3.8" ry="4.3" fill="#000" fill-opacity="0.19" stroke="#000" stroke-opacity="0.31" stroke-width="1.5"/>
<ellipse cx="641.6" cy="630.7" rx="7.4" ry="7.8" fill="#000" fill-opacity="0.19" stroke="#000" stroke-opacity="0.31" stroke-width="1.5"/>
<ellipse cx="636.4" cy="618.2" rx="4.6" ry="5.7" fill="#000" fill-opacity="0.19" stroke="#000" stroke-opacity="0.31" stroke-width="1.5"/>
<ellipse cx="647.2" cy="621.0" rx="8.2" ry="7.7" fill="#000" fill-opacity="0.19" stroke="#000" stroke-opacity="0.31" stroke-width="1.5"/>
<ellipse cx="654.4" cy="634.9" rx="7.4" ry="8.7" fill="#000" fill-opacity="0.19" stroke="#000" stroke-opacity="0.31" stroke-width="1.5"/>
<ellipse cx="654.9" cy="602.9" rx="7.9" ry="6.5" fill="#000" fill-opacity="0.19" stroke="#000" stroke-opacity="0.31" stroke-width="1.5"/>
<ellipse cx="631.1" cy="629.9" rx="9.6" ry="7.4" fill="#000" fill-opacity="0.19" stroke="#000" stroke-opacity="0.31" stroke-width="1.5"/>
<ellipse cx="629.2" cy="641.0" rx="8.4" ry="7.5" fill="#000" fill-opacity="0.19" stroke="#000" stroke-opacity="0.31" stroke-width="1.5"/>
<ellipse cx="634.0" cy="626.5" rx="3.7" ry="4.3" fill="#000" fill-opacity="0.19" stroke="#000" stroke-opacity="0.31" stroke-width="1.5"/>
<ellipse cx="670.0" cy="629.4" rx="4.7" ry="5.3" fill="#000" fill-opacity="0.19" stroke="#000" stroke-opacity="0.31" stroke-width="1.5"/>
<ellipse cx="670.0" cy="633.6" rx="9.5" ry="8.4" fill="#000" fill-opacity="0.19" stroke="#000" stroke-opacity="0.31" stroke-width="1.5"/>
<ellipse cx="644.6" cy="629.8" rx="5.6" ry="5.5" fill="#000" fill-opacity="0.19" stroke="#000" stroke-opacity="0.31" stroke-width="1.5"/>
<ellipse cx="657.5" cy="632.6" rx="6.8" ry="5.3" fill="#000" fill-opacity="0.19" stroke="#000" stroke-opacity="0.31" stroke-width="1.5"/>
<ellipse cx="668.6" cy="614.8" rx="6.7" ry="5.2" fill="#000" fill-opacity="0.19" stroke="#000" stroke-opacity="0.31" stroke-width="1.5"/>
<ellipse cx="641.2" cy="632.1" rx="4.0" ry="4.0" fill="#000" fill-opacity="0.19" stroke="#000" stroke-opacity="0.31" stroke-width="1.5"/>
<ellipse cx="627.0" cy="621.2" rx="5.3" ry="5.0" fill="#000" fill-opacity="0.19" stroke="#000" stroke-opacity="0.31" stroke-width="1.5"/>
<ellipse cx="660.7" cy="618.6" rx="4.4" ry="4.4" fill="#000" fill-opacity="0.19" stroke="#000" stroke-opacity="0.31" stroke-width="1.5"/>
<ellipse cx="650.7" cy="619.1" rx="5.1" ry="5.5" fill="#000" fill-opacity="0.19" stroke="#000" stroke-opacity="0.31" stroke-width="1.5"/>
<ellipse cx="761.0" cy="641.0" rx="49.3" ry="50.3" fill="url(#g1)" stroke="#2e2e2e" stroke-width="2.9"/>
<ellipse cx="898.0" cy="645.0" rx="52.3" ry="54.3" fill="url(#g1)" stroke="#2e2e2e" stroke-width="2.9"/>
<ellipse cx="1015.5" cy="624.5" rx="27.3" ry="31.3" fill="url(#g2)" stroke="#2e2e2e" stroke-width="2.9"/>
<ellipse cx="1121.0" cy="630.5" rx="40.3" ry="39.8" fill="url(#g4)" stroke="#2e2e2e" stroke-width="2.9"/>
<ellipse cx="1242.0" cy="637.0" rx="45.3" ry="46.3" fill="url(#g1)" stroke="#2e2e2e" stroke-width="2.9"/>
<ellipse cx="1366.0" cy="626.0" rx="30.0" ry="32.0" fill="url(#g1)" stroke="#555" stroke-width="2.2"/>
<ellipse cx="1372.9" cy="662.4" rx="6.6" ry="5.3" fill="#000" fill-opacity=".12" stroke="#000" stroke-opacity=".3" stroke-width="1.5"/>
<ellipse cx="1386.4" cy="661.0" rx="5.3" ry="4.2" fill="#000" fill-opacity=".12" stroke="#000" stroke-opacity=".3" stroke-width="1.5"/>
<ellipse cx="1385.2" cy="679.8" rx="6.6" ry="5.3" fill="#000" fill-opacity=".12" stroke="#000" stroke-opacity=".3" stroke-width="1.5"/>
<ellipse cx="1351.9" cy="640.8" rx="6.5" ry="5.2" fill="#000" fill-opacity=".12" stroke="#000" stroke-opacity=".3" stroke-width="1.5"/>
<ellipse cx="1385.9" cy="656.8" rx="6.1" ry="4.9" fill="#000" fill-opacity=".12" stroke="#000" stroke-opacity=".3" stroke-width="1.5"/>
<ellipse cx="1374.9" cy="659.8" rx="7.3" ry="5.8" fill="#000" fill-opacity=".12" stroke="#000" stroke-opacity=".3" stroke-width="1.5"/>
<ellipse cx="1380.1" cy="660.9" rx="6.8" ry="5.4" fill="#000" fill-opacity=".12" stroke="#000" stroke-opacity=".3" stroke-width="1.5"/>
<ellipse cx="1345.1" cy="634.0" rx="5.4" ry="4.4" fill="#000" fill-opacity=".12" stroke="#000" stroke-opacity=".3" stroke-width="1.5"/>
<ellipse cx="1355.0" cy="636.9" rx="6.5" ry="5.2" fill="#000" fill-opacity=".12" stroke="#000" stroke-opacity=".3" stroke-width="1.5"/>
<ellipse cx="1377.9" cy="659.0" rx="4.0" ry="3.2" fill="#000" fill-opacity=".12" stroke="#000" stroke-opacity=".3" stroke-width="1.5"/>
<ellipse cx="1387.9" cy="667.0" rx="6.1" ry="4.9" fill="#000" fill-opacity=".12" stroke="#000" stroke-opacity=".3" stroke-width="1.5"/>
<ellipse cx="1367.3" cy="665.4" rx="5.0" ry="4.0" fill="#000" fill-opacity=".12" stroke="#000" stroke-opacity=".3" stroke-width="1.5"/>
<ellipse cx="1342.0" cy="638.9" rx="4.8" ry="3.9" fill="#000" fill-opacity=".12" stroke="#000" stroke-opacity=".3" stroke-width="1.5"/>
<ellipse cx="1389.5" cy="664.2" rx="5.5" ry="4.4" fill="#000" fill-opacity=".12" stroke="#000" stroke-opacity=".3" stroke-width="1.5"/>
<ellipse cx="1370.6" cy="657.9" rx="6.5" ry="5.2" fill="#000" fill-opacity=".12" stroke="#000" stroke-opacity=".3" stroke-width="1.5"/>
<ellipse cx="1366.7" cy="652.9" rx="5.0" ry="4.0" fill="#000" fill-opacity=".12" stroke="#000" stroke-opacity=".3" stroke-width="1.5"/>
<ellipse cx="1496.0" cy="644.0" rx="56.0" ry="52.0" fill="url(#c1)" stroke="#2e2e2e" stroke-width="2.9"/>
<ellipse cx="1530.0" cy="652.0" rx="50.0" ry="49.0" fill="url(#g1)" stroke="#2e2e2e" stroke-width="2.9"/>
<ellipse cx="1658.5" cy="632.0" rx="43.8" ry="41.3" fill="url(#g3)" stroke="#2e2e2e" stroke-width="2.9"/>
<ellipse cx="1775.5" cy="628.0" rx="37.8" ry="37.3" fill="url(#g1)" stroke="#2e2e2e" stroke-width="2.9"/>
<ellipse cx="1880.0" cy="621.0" rx="31.0" ry="31.0" fill="url(#g3)" stroke="#2e2e2e" stroke-width="2.9"/>
<ellipse cx="1936" cy="610" rx="17" ry="15" fill="#c4c4c4" stroke="#777" stroke-width="2"/>
<ellipse cx="95.5" cy="798.0" rx="50.8" ry="50.3" fill="url(#g1)" stroke="#2e2e2e" stroke-width="2.9"/>
<ellipse cx="218.0" cy="782.5" rx="36.3" ry="34.8" fill="url(#g3)" stroke="#2e2e2e" stroke-width="2.9"/>
<ellipse cx="331.0" cy="788.0" rx="41.3" ry="40.3" fill="url(#g2)" stroke="#2e2e2e" stroke-width="2.9"/>
<ellipse cx="450.5" cy="791.5" rx="42.8" ry="43.8" fill="url(#g1)" stroke="#2e2e2e" stroke-width="2.9"/>
<ellipse cx="558.3" cy="770.6" rx="4.0" ry="4.3" fill="#000" fill-opacity="0.19" stroke="#000" stroke-opacity="0.31" stroke-width="1.5"/>
<ellipse cx="549.1" cy="754.0" rx="7.0" ry="7.4" fill="#000" fill-opacity="0.19" stroke="#000" stroke-opacity="0.31" stroke-width="1.5"/>
<ellipse cx="543.0" cy="769.9" rx="5.4" ry="6.3" fill="#000" fill-opacity="0.19" stroke="#000" stroke-opacity="0.31" stroke-width="1.5"/>
<ellipse cx="568.9" cy="765.5" rx="11.3" ry="8.9" fill="#000" fill-opacity="0.19" stroke="#000" stroke-opacity="0.31" stroke-width="1.5"/>
<ellipse cx="578.0" cy="773.4" rx="10.4" ry="8.1" fill="#000" fill-opacity="0.19" stroke="#000" stroke-opacity="0.31" stroke-width="1.5"/>
<ellipse cx="548.7" cy="775.2" rx="6.4" ry="5.0" fill="#000" fill-opacity="0.19" stroke="#000" stroke-opacity="0.31" stroke-width="1.5"/>
<ellipse cx="565.7" cy="790.3" rx="5.0" ry="4.7" fill="#000" fill-opacity="0.19" stroke="#000" stroke-opacity="0.31" stroke-width="1.5"/>
<ellipse cx="568.6" cy="769.3" rx="8.5" ry="8.1" fill="#000" fill-opacity="0.19" stroke="#000" stroke-opacity="0.31" stroke-width="1.5"/>
<ellipse cx="579.3" cy="756.7" rx="6.4" ry="5.2" fill="#000" fill-opacity="0.19" stroke="#000" stroke-opacity="0.31" stroke-width="1.5"/>
<ellipse cx="557.0" cy="771.9" rx="4.2" ry="4.0" fill="#000" fill-opacity="0.19" stroke="#000" stroke-opacity="0.31" stroke-width="1.5"/>
<ellipse cx="547.8" cy="775.4" rx="4.6" ry="4.7" fill="#000" fill-opacity="0.19" stroke="#000" stroke-opacity="0.31" stroke-width="1.5"/>
<ellipse cx="548.3" cy="793.0" rx="4.7" ry="4.0" fill="#000" fill-opacity="0.19" stroke="#000" stroke-opacity="0.31" stroke-width="1.5"/>
<ellipse cx="564.8" cy="765.3" rx="10.0" ry="8.6" fill="#000" fill-opacity="0.19" stroke="#000" stroke-opacity="0.31" stroke-width="1.5"/>
<ellipse cx="571.2" cy="764.6" rx="5.8" ry="5.9" fill="#000" fill-opacity="0.19" stroke="#000" stroke-opacity="0.31" stroke-width="1.5"/>
<ellipse cx="580.0" cy="771.4" rx="5.9" ry="5.8" fill="#000" fill-opacity="0.19" stroke="#000" stroke-opacity="0.31" stroke-width="1.5"/>
<ellipse cx="559.8" cy="776.1" rx="5.5" ry="4.5" fill="#000" fill-opacity="0.19" stroke="#000" stroke-opacity="0.31" stroke-width="1.5"/>
<ellipse cx="552.3" cy="793.0" rx="4.9" ry="5.2" fill="#000" fill-opacity="0.19" stroke="#000" stroke-opacity="0.31" stroke-width="1.5"/>
<ellipse cx="550.3" cy="770.9" rx="7.5" ry="5.9" fill="#000" fill-opacity="0.19" stroke="#000" stroke-opacity="0.31" stroke-width="1.5"/>
<ellipse cx="580.0" cy="754.0" rx="9.0" ry="7.2" fill="#000" fill-opacity="0.19" stroke="#000" stroke-opacity="0.31" stroke-width="1.5"/>
<ellipse cx="668.5" cy="799.5" rx="46.8" ry="51.8" fill="url(#g1)" stroke="#2e2e2e" stroke-width="2.9"/>
<ellipse cx="809.0" cy="802.0" rx="58.3" ry="54.3" fill="url(#g1)" stroke="#2e2e2e" stroke-width="2.9"/>
<ellipse cx="946.5" cy="790.5" rx="43.8" ry="42.8" fill="url(#g2)" stroke="#2e2e2e" stroke-width="2.9"/>
<ellipse cx="1098.5" cy="808.5" rx="59.3" ry="61.3" fill="url(#c4)" stroke="#2e2e2e" stroke-width="2.9"/>
<ellipse cx="1237.0" cy="795.5" rx="45.3" ry="47.8" fill="url(#g1)" stroke="#2e2e2e" stroke-width="2.9"/>
<ellipse cx="1355.5" cy="785.0" rx="37.8" ry="37.3" fill="url(#g2)" stroke="#2e2e2e" stroke-width="2.9"/>
<ellipse cx="1482.0" cy="802.0" rx="53.3" ry="54.3" fill="url(#c2)" stroke="#2e2e2e" stroke-width="2.9"/>
<ellipse cx="1725.7" cy="798.9" rx="7.6" ry="6.5" fill="#000" fill-opacity=".13" stroke="#000" stroke-opacity=".28" stroke-width="1.5"/>
<ellipse cx="1661.6" cy="813.6" rx="6.3" ry="5.3" fill="#000" fill-opacity=".13" stroke="#000" stroke-opacity=".28" stroke-width="1.5"/>
<ellipse cx="1712.2" cy="806.6" rx="5.4" ry="4.6" fill="#000" fill-opacity=".13" stroke="#000" stroke-opacity=".28" stroke-width="1.5"/>
<ellipse cx="1667.2" cy="792.8" rx="5.7" ry="4.9" fill="#000" fill-opacity=".13" stroke="#000" stroke-opacity=".28" stroke-width="1.5"/>
<ellipse cx="1679.4" cy="814.1" rx="8.9" ry="7.5" fill="#000" fill-opacity=".13" stroke="#000" stroke-opacity=".28" stroke-width="1.5"/>
<ellipse cx="1676.7" cy="807.5" rx="5.5" ry="4.7" fill="#000" fill-opacity=".13" stroke="#000" stroke-opacity=".28" stroke-width="1.5"/>
<ellipse cx="1698.1" cy="786.5" rx="4.8" ry="4.1" fill="#000" fill-opacity=".13" stroke="#000" stroke-opacity=".28" stroke-width="1.5"/>
<ellipse cx="1669.6" cy="771.6" rx="8.5" ry="7.3" fill="#000" fill-opacity=".13" stroke="#000" stroke-opacity=".28" stroke-width="1.5"/>
<ellipse cx="1693.8" cy="772.6" rx="8.5" ry="7.3" fill="#000" fill-opacity=".13" stroke="#000" stroke-opacity=".28" stroke-width="1.5"/>
<ellipse cx="1729.7" cy="791.0" rx="4.7" ry="4.0" fill="#000" fill-opacity=".13" stroke="#000" stroke-opacity=".28" stroke-width="1.5"/>
<ellipse cx="1671.9" cy="762.3" rx="5.7" ry="4.9" fill="#000" fill-opacity=".13" stroke="#000" stroke-opacity=".28" stroke-width="1.5"/>
<ellipse cx="1664.6" cy="774.1" rx="5.3" ry="4.5" fill="#000" fill-opacity=".13" stroke="#000" stroke-opacity=".28" stroke-width="1.5"/>
<ellipse cx="1699.0" cy="826.0" rx="7.7" ry="6.6" fill="#000" fill-opacity=".13" stroke="#000" stroke-opacity=".28" stroke-width="1.5"/>
<ellipse cx="1687.7" cy="788.1" rx="6.6" ry="5.6" fill="#000" fill-opacity=".13" stroke="#000" stroke-opacity=".28" stroke-width="1.5"/>
<ellipse cx="1685.1" cy="782.1" rx="4.3" ry="3.7" fill="#000" fill-opacity=".13" stroke="#000" stroke-opacity=".28" stroke-width="1.5"/>
<ellipse cx="1667.1" cy="795.3" rx="7.1" ry="6.1" fill="#000" fill-opacity=".13" stroke="#000" stroke-opacity=".28" stroke-width="1.5"/>
<ellipse cx="1720.1" cy="772.3" rx="5.4" ry="4.6" fill="#000" fill-opacity=".13" stroke="#000" stroke-opacity=".28" stroke-width="1.5"/>
<ellipse cx="1675.9" cy="787.0" rx="6.2" ry="5.3" fill="#000" fill-opacity=".13" stroke="#000" stroke-opacity=".28" stroke-width="1.5"/>
<ellipse cx="1726.7" cy="822.9" rx="8.4" ry="7.1" fill="#000" fill-opacity=".13" stroke="#000" stroke-opacity=".28" stroke-width="1.5"/>
<ellipse cx="1709.1" cy="826.7" rx="6.4" ry="5.4" fill="#000" fill-opacity=".13" stroke="#000" stroke-opacity=".28" stroke-width="1.5"/>
<ellipse cx="1700.3" cy="755.0" rx="6.0" ry="5.1" fill="#000" fill-opacity=".13" stroke="#000" stroke-opacity=".28" stroke-width="1.5"/>
<ellipse cx="1724.7" cy="821.0" rx="8.3" ry="7.0" fill="#000" fill-opacity=".13" stroke="#000" stroke-opacity=".28" stroke-width="1.5"/>
<ellipse cx="1728.0" cy="774.9" rx="4.5" ry="3.9" fill="#000" fill-opacity=".13" stroke="#000" stroke-opacity=".28" stroke-width="1.5"/>
<ellipse cx="1669.1" cy="796.8" rx="7.4" ry="6.3" fill="#000" fill-opacity=".13" stroke="#000" stroke-opacity=".28" stroke-width="1.5"/>
<ellipse cx="1725.8" cy="812.7" rx="7.2" ry="6.2" fill="#000" fill-opacity=".13" stroke="#000" stroke-opacity=".28" stroke-width="1.5"/>
<ellipse cx="1713.1" cy="791.6" rx="6.8" ry="5.7" fill="#000" fill-opacity=".13" stroke="#000" stroke-opacity=".28" stroke-width="1.5"/>
<ellipse cx="1660.8" cy="817.6" rx="5.2" ry="4.4" fill="#000" fill-opacity=".13" stroke="#000" stroke-opacity=".28" stroke-width="1.5"/>
<ellipse cx="1724.2" cy="806.6" rx="5.5" ry="4.7" fill="#000" fill-opacity=".13" stroke="#000" stroke-opacity=".28" stroke-width="1.5"/>
<ellipse cx="1667.2" cy="775.1" rx="7.2" ry="6.1" fill="#000" fill-opacity=".13" stroke="#000" stroke-opacity=".28" stroke-width="1.5"/>
<ellipse cx="1708.3" cy="764.0" rx="4.4" ry="3.7" fill="#000" fill-opacity=".13" stroke="#000" stroke-opacity=".28" stroke-width="1.5"/>
<ellipse cx="1695.8" cy="801.6" rx="5.9" ry="5.0" fill="#000" fill-opacity=".13" stroke="#000" stroke-opacity=".28" stroke-width="1.5"/>
<ellipse cx="1674.1" cy="803.1" rx="4.1" ry="3.4" fill="#000" fill-opacity=".13" stroke="#000" stroke-opacity=".28" stroke-width="1.5"/>
<ellipse cx="1679.7" cy="791.9" rx="8.8" ry="7.5" fill="#000" fill-opacity=".13" stroke="#000" stroke-opacity=".28" stroke-width="1.5"/>
<ellipse cx="1704.4" cy="825.7" rx="6.4" ry="5.4" fill="#000" fill-opacity=".13" stroke="#000" stroke-opacity=".28" stroke-width="1.5"/>
<ellipse cx="1674.9" cy="774.8" rx="8.8" ry="7.5" fill="#000" fill-opacity=".13" stroke="#000" stroke-opacity=".28" stroke-width="1.5"/>
<ellipse cx="1708.7" cy="779.6" rx="4.1" ry="3.5" fill="#000" fill-opacity=".13" stroke="#000" stroke-opacity=".28" stroke-width="1.5"/>
<ellipse cx="1693.9" cy="809.0" rx="6.1" ry="5.2" fill="#000" fill-opacity=".13" stroke="#000" stroke-opacity=".28" stroke-width="1.5"/>
<ellipse cx="1676.5" cy="808.4" rx="8.6" ry="7.3" fill="#000" fill-opacity=".13" stroke="#000" stroke-opacity=".28" stroke-width="1.5"/>
<ellipse cx="1674.3" cy="757.7" rx="5.7" ry="4.8" fill="#000" fill-opacity=".13" stroke="#000" stroke-opacity=".28" stroke-width="1.5"/>
<ellipse cx="1688.3" cy="809.6" rx="5.0" ry="4.2" fill="#000" fill-opacity=".13" stroke="#000" stroke-opacity=".28" stroke-width="1.5"/>
<ellipse cx="1715.4" cy="814.1" rx="6.5" ry="5.5" fill="#000" fill-opacity=".13" stroke="#000" stroke-opacity=".28" stroke-width="1.5"/>
<ellipse cx="1680.4" cy="820.6" rx="5.2" ry="4.4" fill="#000" fill-opacity=".13" stroke="#000" stroke-opacity=".28" stroke-width="1.5"/>
<ellipse cx="1673.9" cy="815.8" rx="5.5" ry="4.7" fill="#000" fill-opacity=".13" stroke="#000" stroke-opacity=".28" stroke-width="1.5"/>
<ellipse cx="1726.5" cy="794.7" rx="4.9" ry="4.2" fill="#000" fill-opacity=".13" stroke="#000" stroke-opacity=".28" stroke-width="1.5"/>
<ellipse cx="1674.1" cy="788.4" rx="7.3" ry="6.2" fill="#000" fill-opacity=".13" stroke="#000" stroke-opacity=".28" stroke-width="1.5"/>
<ellipse cx="1726.3" cy="766.7" rx="6.0" ry="5.1" fill="#000" fill-opacity=".13" stroke="#000" stroke-opacity=".28" stroke-width="1.5"/>
<ellipse cx="1662.3" cy="786.5" rx="8.5" ry="7.2" fill="#000" fill-opacity=".13" stroke="#000" stroke-opacity=".28" stroke-width="1.5"/>
<ellipse cx="1721.6" cy="813.6" rx="9.0" ry="7.6" fill="#000" fill-opacity=".13" stroke="#000" stroke-opacity=".28" stroke-width="1.5"/>
<ellipse cx="1725.1" cy="781.3" rx="4.9" ry="4.2" fill="#000" fill-opacity=".13" stroke="#000" stroke-opacity=".28" stroke-width="1.5"/>
<ellipse cx="1725.4" cy="814.7" rx="4.2" ry="3.5" fill="#000" fill-opacity=".13" stroke="#000" stroke-opacity=".28" stroke-width="1.5"/>
<ellipse cx="1705.8" cy="785.3" rx="5.9" ry="5.0" fill="#000" fill-opacity=".13" stroke="#000" stroke-opacity=".28" stroke-width="1.5"/>
<ellipse cx="1681.9" cy="768.5" rx="4.0" ry="3.4" fill="#000" fill-opacity=".13" stroke="#000" stroke-opacity=".28" stroke-width="1.5"/>
<ellipse cx="1678.1" cy="783.1" rx="8.8" ry="7.5" fill="#000" fill-opacity=".13" stroke="#000" stroke-opacity=".28" stroke-width="1.5"/>
<ellipse cx="1613.0" cy="800.0" rx="42.0" ry="43.0" fill="url(#c2)" stroke="#2e2e2e" stroke-width="2.9"/>
<ellipse cx="1808.0" cy="782.5" rx="36.3" ry="34.8" fill="url(#g3)" stroke="#2e2e2e" stroke-width="2.9"/>
<ellipse cx="1916.0" cy="785.0" rx="36.3" ry="37.3" fill="url(#g2)" stroke="#2e2e2e" stroke-width="2.9"/>
<ellipse cx="101.5" cy="959.0" rx="56.8" ry="54.3" fill="url(#c4)" stroke="#2e2e2e" stroke-width="2.9"/>
<ellipse cx="212.3" cy="911.0" rx="5.1" ry="6.2" fill="#000" fill-opacity="0.08" stroke="#000" stroke-opacity="0.20" stroke-width="1.5"/>
<ellipse cx="200.0" cy="921.1" rx="7.7" ry="8.6" fill="#000" fill-opacity="0.08" stroke="#000" stroke-opacity="0.20" stroke-width="1.5"/>
<ellipse cx="200.0" cy="930.0" rx="4.2" ry="4.2" fill="#000" fill-opacity="0.08" stroke="#000" stroke-opacity="0.20" stroke-width="1.5"/>
<ellipse cx="314.0" cy="959.0" rx="58.3" ry="54.3" fill="url(#c3)" stroke="#2e2e2e" stroke-width="2.9"/>
<ellipse cx="457.0" cy="955.0" rx="49.3" ry="50.3" fill="url(#c2)" stroke="#2e2e2e" stroke-width="2.9"/>
<ellipse cx="577.0" cy="942.5" rx="35.3" ry="37.8" fill="url(#g2)" stroke="#2e2e2e" stroke-width="2.9"/>
<ellipse cx="684.0" cy="939.5" rx="36.3" ry="34.8" fill="url(#g0)" stroke="#2e2e2e" stroke-width="2.9"/>
<ellipse cx="804.5" cy="952.5" rx="47.8" ry="47.8" fill="url(#g4)" stroke="#2e2e2e" stroke-width="2.9"/>
<ellipse cx="944.5" cy="957.5" rx="56.8" ry="52.8" fill="url(#g2)" stroke="#2e2e2e" stroke-width="2.9"/>
<ellipse cx="1089.0" cy="959.0" rx="52.3" ry="54.3" fill="url(#g2)" stroke="#2e2e2e" stroke-width="2.9"/>
<ellipse cx="1242.5" cy="966.5" rx="65.8" ry="61.8" fill="url(#c4)" stroke="#2e2e2e" stroke-width="2.9"/>
<ellipse cx="1408.5" cy="972.0" rx="64.8" ry="67.3" fill="url(#g2)" stroke="#2e2e2e" stroke-width="2.9"/>
<ellipse cx="1575.0" cy="965.5" rx="66.3" ry="60.8" fill="url(#g1)" stroke="#2e2e2e" stroke-width="2.9"/>
<ellipse cx="1742.5" cy="963.0" rx="65.8" ry="58.3" fill="url(#c3)" stroke="#2e2e2e" stroke-width="2.9"/>
<ellipse cx="1884.0" cy="943.5" rx="40.3" ry="38.8" fill="url(#g1)" stroke="#2e2e2e" stroke-width="2.9"/>
<ellipse cx="101.5" cy="1129.0" rx="56.8" ry="54.3" fill="url(#g1)" stroke="#2e2e2e" stroke-width="2.9"/>
<ellipse cx="238.0" cy="1120.0" rx="44.3" ry="45.3" fill="url(#g2)" stroke="#2e2e2e" stroke-width="2.9"/>
<ellipse cx="350.0" cy="1106.0" rx="32.3" ry="31.3" fill="url(#g4)" stroke="#2e2e2e" stroke-width="2.9"/>
<ellipse cx="459.0" cy="1113.5" rx="42.8" ry="41.3" fill="none" stroke="#666" stroke-width="7" opacity=".45"/>
<ellipse cx="459.0" cy="1113.5" rx="40.3" ry="38.8" fill="url(#g4)" stroke="#2e2e2e" stroke-width="2.9"/>
<ellipse cx="591.5" cy="1130.0" rx="56.8" ry="55.3" fill="url(#g4)" stroke="#2e2e2e" stroke-width="2.9"/>
<ellipse cx="735.5" cy="1126.5" rx="51.8" ry="51.8" fill="url(#g1)" stroke="#2e2e2e" stroke-width="2.9"/>
<ellipse cx="856.5" cy="1110.0" rx="33.8" ry="35.3" fill="url(#g1)" stroke="#2e2e2e" stroke-width="2.9"/>
<ellipse cx="979.5" cy="1129.0" rx="52.8" ry="54.3" fill="url(#c4)" stroke="#2e2e2e" stroke-width="2.9"/>
<ellipse cx="1100.0" cy="1108.5" rx="32.3" ry="33.8" fill="url(#g3)" stroke="#2e2e2e" stroke-width="2.9"/>
<ellipse cx="1203.0" cy="1108.5" rx="35.3" ry="33.8" fill="url(#g3)" stroke="#2e2e2e" stroke-width="2.9"/>
<ellipse cx="1325.5" cy="1126.5" rx="51.8" ry="51.8" fill="url(#c5)" stroke="#2e2e2e" stroke-width="2.9"/>
<ellipse cx="1444.2" cy="1106.0" rx="31.6" ry="31.3" fill="url(#g2)" stroke="#2e2e2e" stroke-width="2.9"/>
<ellipse cx="1567.0" cy="1117.5" rx="40.3" ry="42.8" fill="url(#g2)" stroke="#2e2e2e" stroke-width="2.9"/>
<ellipse cx="1686.5" cy="1118.5" rx="43.8" ry="43.8" fill="url(#g0)" stroke="#2e2e2e" stroke-width="2.9"/>
<ellipse cx="1814.5" cy="1121.5" rx="47.8" ry="46.8" fill="url(#g2)" stroke="#2e2e2e" stroke-width="2.9"/>
<ellipse cx="1928.0" cy="1108.5" rx="30.3" ry="33.8" fill="url(#g3)" stroke="#2e2e2e" stroke-width="2.9"/>
<ellipse cx="77.0" cy="1252.5" rx="32.3" ry="30.8" fill="url(#g3)" stroke="#2e2e2e" stroke-width="2.9"/>
<ellipse cx="190.0" cy="1264.5" rx="45.3" ry="42.8" fill="url(#g2)" stroke="#2e2e2e" stroke-width="2.9"/>
<ellipse cx="308.0" cy="1254.0" rx="36.3" ry="32.3" fill="url(#g4)" stroke="#2e2e2e" stroke-width="2.9"/>
<ellipse cx="416.0" cy="1256.5" rx="36.3" ry="34.8" fill="url(#g3)" stroke="#2e2e2e" stroke-width="2.9"/>
<ellipse cx="537.0" cy="1276.0" rx="49.3" ry="54.3" fill="url(#g1)" stroke="#2e2e2e" stroke-width="2.9"/>
<ellipse cx="680.0" cy="1272.0" rx="58.3" ry="50.3" fill="url(#g3)" stroke="#2e2e2e" stroke-width="2.9"/>
<ellipse cx="807.5" cy="1254.0" rx="33.8" ry="32.3" fill="url(#g2)" stroke="#2e2e2e" stroke-width="2.9"/>
<ellipse cx="925.0" cy="1268.0" rx="48.3" ry="46.3" fill="url(#g1)" stroke="#2e2e2e" stroke-width="2.9"/>
<ellipse cx="1053.0" cy="1264.5" rx="44.3" ry="42.8" fill="url(#g1)" stroke="#2e2e2e" stroke-width="2.9"/>
<ellipse cx="1189.8" cy="1275.0" rx="57.0" ry="53.3" fill="url(#g1)" stroke="#2e2e2e" stroke-width="2.9"/>
<ellipse cx="1332.0" cy="1253.0" rx="35.3" ry="31.3" fill="url(#g1)" stroke="#2e2e2e" stroke-width="2.9"/>
<ellipse cx="1448.0" cy="1268.0" rx="45.3" ry="46.3" fill="url(#g2)" stroke="#2e2e2e" stroke-width="2.9"/>
<ellipse cx="1575.5" cy="1271.0" rx="46.8" ry="49.3" fill="url(#g2)" stroke="#2e2e2e" stroke-width="2.9"/>
<ellipse cx="1708.5" cy="1272.0" rx="50.8" ry="50.3" fill="url(#g2)" stroke="#2e2e2e" stroke-width="2.9"/>
<ellipse cx="1843.0" cy="1267.0" rx="48.3" ry="45.3" fill="url(#g2)" stroke="#2e2e2e" stroke-width="2.9"/>
<ellipse cx="1962.0" cy="1249.0" rx="35.3" ry="27.3" fill="url(#g1)" stroke="#2e2e2e" stroke-width="2.9"/>
<ellipse cx="86.0" cy="1408.5" rx="41.3" ry="42.8" fill="url(#c2)" stroke="#2e2e2e" stroke-width="2.9"/>
<ellipse cx="209.5" cy="1412.5" rx="46.8" ry="46.8" fill="url(#c4)" stroke="#2e2e2e" stroke-width="2.9"/>
<ellipse cx="328.0" cy="1399.6" rx="5.4" ry="4.3" fill="#000" fill-opacity="0.11" stroke="#000" stroke-opacity="0.23" stroke-width="1.5"/>
<ellipse cx="322.7" cy="1419.0" rx="8.2" ry="8.5" fill="#000" fill-opacity="0.11" stroke="#000" stroke-opacity="0.23" stroke-width="1.5"/>
<ellipse cx="318.2" cy="1419.0" rx="6.6" ry="7.1" fill="#000" fill-opacity="0.11" stroke="#000" stroke-opacity="0.23" stroke-width="1.5"/>
<ellipse cx="320.9" cy="1384.3" rx="4.3" ry="5.4" fill="#000" fill-opacity="0.11" stroke="#000" stroke-opacity="0.23" stroke-width="1.5"/>
<ellipse cx="325.1" cy="1372.0" rx="9.1" ry="7.2" fill="#000" fill-opacity="0.11" stroke="#000" stroke-opacity="0.23" stroke-width="1.5"/>
<ellipse cx="335.4" cy="1400.3" rx="8.2" ry="6.4" fill="#000" fill-opacity="0.11" stroke="#000" stroke-opacity="0.23" stroke-width="1.5"/>
<ellipse cx="339.1" cy="1393.8" rx="5.3" ry="5.3" fill="#000" fill-opacity="0.11" stroke="#000" stroke-opacity="0.23" stroke-width="1.5"/>
<ellipse cx="298.0" cy="1400.0" rx="5.9" ry="4.9" fill="#000" fill-opacity="0.11" stroke="#000" stroke-opacity="0.23" stroke-width="1.5"/>
<ellipse cx="321.7" cy="1372.0" rx="8.7" ry="7.9" fill="#000" fill-opacity="0.11" stroke="#000" stroke-opacity="0.23" stroke-width="1.5"/>
<ellipse cx="317.2" cy="1411.3" rx="6.9" ry="5.8" fill="#000" fill-opacity="0.11" stroke="#000" stroke-opacity="0.23" stroke-width="1.5"/>
<ellipse cx="333.2" cy="1403.7" rx="7.2" ry="7.8" fill="#000" fill-opacity="0.11" stroke="#000" stroke-opacity="0.23" stroke-width="1.5"/>
<ellipse cx="436.5" cy="1417.5" rx="51.8" ry="51.8" fill="url(#c4)" stroke="#2e2e2e" stroke-width="2.9"/>
<ellipse cx="562.2" cy="1398.0" rx="34.0" ry="32.3" fill="url(#g1)" stroke="#2e2e2e" stroke-width="2.9"/>
<ellipse cx="674.5" cy="1408.5" rx="42.8" ry="42.8" fill="url(#g1)" stroke="#2e2e2e" stroke-width="2.9"/>
<ellipse cx="804.0" cy="1415.0" rx="50.3" ry="49.3" fill="url(#g2)" stroke="#2e2e2e" stroke-width="2.9"/>
<ellipse cx="956.0" cy="1429.0" rx="66.3" ry="63.3" fill="url(#g2)" stroke="#2e2e2e" stroke-width="2.9"/>
<ellipse cx="1092.5" cy="1402.0" rx="34.8" ry="36.3" fill="url(#g1)" stroke="#2e2e2e" stroke-width="2.9"/>
<ellipse cx="1214.5" cy="1421.5" rx="51.8" ry="55.8" fill="url(#g2)" stroke="#2e2e2e" stroke-width="2.9"/>
<ellipse cx="1345.5" cy="1408.5" rx="42.8" ry="42.8" fill="url(#g2)" stroke="#2e2e2e" stroke-width="2.9"/>
<ellipse cx="1460.0" cy="1403.0" rx="36.3" ry="37.3" fill="url(#g2)" stroke="#2e2e2e" stroke-width="2.9"/>
<ellipse cx="1595.0" cy="1425.0" rx="63.3" ry="59.3" fill="url(#g3)" stroke="#2e2e2e" stroke-width="2.9"/>
<ellipse cx="1727.5" cy="1399.5" rx="33.8" ry="33.8" fill="url(#g3)" stroke="#2e2e2e" stroke-width="2.9"/>
<ellipse cx="1852.5" cy="1421.5" rx="55.8" ry="55.8" fill="url(#c2)" stroke="#2e2e2e" stroke-width="2.9"/>
<ellipse cx="104.0" cy="1587.0" rx="59.3" ry="58.3" fill="url(#c4)" stroke="#2e2e2e" stroke-width="2.9"/>
<ellipse cx="236.5" cy="1566.0" rx="37.8" ry="37.3" fill="url(#g1)" stroke="#2e2e2e" stroke-width="2.9"/>
<ellipse cx="360.5" cy="1577.5" rx="50.8" ry="48.8" fill="url(#g2)" stroke="#2e2e2e" stroke-width="2.9"/>
<ellipse cx="497.5" cy="1579.0" rx="50.8" ry="50.3" fill="url(#g1)" stroke="#2e2e2e" stroke-width="2.9"/>
<ellipse cx="589.0" cy="1541.1" rx="11.1" ry="8.9" fill="#000" fill-opacity="0.08" stroke="#000" stroke-opacity="0.20" stroke-width="1.5"/>
<ellipse cx="599.0" cy="1543.7" rx="3.7" ry="4.4" fill="#000" fill-opacity="0.08" stroke="#000" stroke-opacity="0.20" stroke-width="1.5"/>
<ellipse cx="589.0" cy="1544.6" rx="5.7" ry="6.2" fill="#000" fill-opacity="0.08" stroke="#000" stroke-opacity="0.20" stroke-width="1.5"/>
<ellipse cx="661.4" cy="1535.0" rx="9.3" ry="8.2" fill="#000" fill-opacity="0.15" stroke="#000" stroke-opacity="0.27" stroke-width="1.5"/>
<ellipse cx="701.1" cy="1577.0" rx="5.9" ry="5.5" fill="#000" fill-opacity="0.15" stroke="#000" stroke-opacity="0.27" stroke-width="1.5"/>
<ellipse cx="654.4" cy="1575.2" rx="4.6" ry="5.0" fill="#000" fill-opacity="0.15" stroke="#000" stroke-opacity="0.27" stroke-width="1.5"/>
<ellipse cx="675.8" cy="1566.1" rx="9.2" ry="8.4" fill="#000" fill-opacity="0.15" stroke="#000" stroke-opacity="0.27" stroke-width="1.5"/>
<ellipse cx="666.9" cy="1570.9" rx="9.4" ry="9.0" fill="#000" fill-opacity="0.15" stroke="#000" stroke-opacity="0.27" stroke-width="1.5"/>
<ellipse cx="679.4" cy="1577.0" rx="9.4" ry="7.3" fill="#000" fill-opacity="0.15" stroke="#000" stroke-opacity="0.27" stroke-width="1.5"/>
<ellipse cx="692.3" cy="1567.7" rx="9.9" ry="8.1" fill="#000" fill-opacity="0.15" stroke="#000" stroke-opacity="0.27" stroke-width="1.5"/>
<ellipse cx="680.0" cy="1555.0" rx="4.7" ry="5.5" fill="#000" fill-opacity="0.15" stroke="#000" stroke-opacity="0.27" stroke-width="1.5"/>
<ellipse cx="693.9" cy="1577.0" rx="8.7" ry="6.9" fill="#000" fill-opacity="0.15" stroke="#000" stroke-opacity="0.27" stroke-width="1.5"/>
<ellipse cx="649.7" cy="1577.0" rx="5.8" ry="6.2" fill="#000" fill-opacity="0.15" stroke="#000" stroke-opacity="0.27" stroke-width="1.5"/>
<ellipse cx="683.2" cy="1535.0" rx="5.0" ry="4.5" fill="#000" fill-opacity="0.15" stroke="#000" stroke-opacity="0.27" stroke-width="1.5"/>
<ellipse cx="666.0" cy="1549.9" rx="5.1" ry="5.8" fill="#000" fill-opacity="0.15" stroke="#000" stroke-opacity="0.27" stroke-width="1.5"/>
<ellipse cx="679.5" cy="1568.5" rx="7.9" ry="7.0" fill="#000" fill-opacity="0.15" stroke="#000" stroke-opacity="0.27" stroke-width="1.5"/>
<ellipse cx="676.3" cy="1559.5" rx="6.4" ry="5.6" fill="#000" fill-opacity="0.15" stroke="#000" stroke-opacity="0.27" stroke-width="1.5"/>
<ellipse cx="681.8" cy="1569.4" rx="6.0" ry="5.0" fill="#000" fill-opacity="0.15" stroke="#000" stroke-opacity="0.27" stroke-width="1.5"/>
<ellipse cx="669.1" cy="1555.6" rx="4.5" ry="4.5" fill="#000" fill-opacity="0.15" stroke="#000" stroke-opacity="0.27" stroke-width="1.5"/>
<ellipse cx="650.4" cy="1550.4" rx="3.9" ry="4.5" fill="#000" fill-opacity="0.15" stroke="#000" stroke-opacity="0.27" stroke-width="1.5"/>
<ellipse cx="669.1" cy="1542.4" rx="5.2" ry="5.4" fill="#000" fill-opacity="0.15" stroke="#000" stroke-opacity="0.27" stroke-width="1.5"/>
<ellipse cx="690.8" cy="1553.4" rx="6.7" ry="6.8" fill="#000" fill-opacity="0.15" stroke="#000" stroke-opacity="0.27" stroke-width="1.5"/>
<ellipse cx="649.0" cy="1572.6" rx="8.8" ry="9.0" fill="#000" fill-opacity="0.15" stroke="#000" stroke-opacity="0.27" stroke-width="1.5"/>
<ellipse cx="787.5" cy="1571.5" rx="41.8" ry="42.8" fill="url(#g2)" stroke="#2e2e2e" stroke-width="2.9"/>
<ellipse cx="899.0" cy="1565.0" rx="35.3" ry="36.3" fill="url(#g2)" stroke="#2e2e2e" stroke-width="2.9"/>
<ellipse cx="1007.5" cy="1567.5" rx="37.8" ry="38.8" fill="url(#g5)" stroke="#2e2e2e" stroke-width="2.9"/>
<ellipse cx="1144.0" cy="1581.5" rx="63.3" ry="52.8" fill="url(#g2)" stroke="#2e2e2e" stroke-width="2.9"/>
<ellipse cx="1285.5" cy="1570.0" rx="42.8" ry="41.3" fill="url(#g1)" stroke="#2e2e2e" stroke-width="2.9"/>
<ellipse cx="1407.5" cy="1572.5" rx="42.8" ry="43.8" fill="url(#g2)" stroke="#2e2e2e" stroke-width="2.9"/>
<ellipse cx="1518.0" cy="1592.0" rx="32.0" ry="34.0" fill="url(#g2)" stroke="#2e2e2e" stroke-width="2.9"/>
<ellipse cx="1587.0" cy="1557.0" rx="28.0" ry="26.0" fill="url(#g2)" stroke="#2e2e2e" stroke-width="2.9"/>
<ellipse cx="1713.5" cy="1589.5" rx="65.5" ry="60.5" fill="url(#g2)" stroke="#2e2e2e" stroke-width="4"/>
<ellipse cx="1713.5" cy="1593.5" rx="46.5" ry="37.5" fill="#bdbdbd" stroke="#444" stroke-width="2.5" transform="rotate(-15 1713.5 1589.5)"/>
<ellipse cx="1716.5" cy="1594.5" rx="34" ry="29" fill="url(#blob)" opacity="1"/>
<ellipse cx="1716.5" cy="1594.5" rx="20" ry="17" fill="#444" opacity=".55"/>
<ellipse cx="1841.8" cy="1571.2" rx="8.6" ry="8.5" fill="#000" fill-opacity="0.15" stroke="#000" stroke-opacity="0.27" stroke-width="1.5"/>
<ellipse cx="1848.3" cy="1550.5" rx="8.7" ry="8.4" fill="#000" fill-opacity="0.15" stroke="#000" stroke-opacity="0.27" stroke-width="1.5"/>
<ellipse cx="1842.7" cy="1572.0" rx="7.6" ry="6.8" fill="#000" fill-opacity="0.15" stroke="#000" stroke-opacity="0.27" stroke-width="1.5"/>
<ellipse cx="1847.1" cy="1564.4" rx="7.0" ry="7.1" fill="#000" fill-opacity="0.15" stroke="#000" stroke-opacity="0.27" stroke-width="1.5"/>
<ellipse cx="1832.2" cy="1568.7" rx="5.7" ry="5.4" fill="#000" fill-opacity="0.15" stroke="#000" stroke-opacity="0.27" stroke-width="1.5"/>
<ellipse cx="1848.1" cy="1564.7" rx="7.8" ry="6.5" fill="#000" fill-opacity="0.15" stroke="#000" stroke-opacity="0.27" stroke-width="1.5"/>
<ellipse cx="1851.7" cy="1566.3" rx="5.9" ry="4.6" fill="#000" fill-opacity="0.15" stroke="#000" stroke-opacity="0.27" stroke-width="1.5"/>
<ellipse cx="1859.5" cy="1565.5" rx="5.4" ry="4.3" fill="#000" fill-opacity="0.15" stroke="#000" stroke-opacity="0.27" stroke-width="1.5"/>
<ellipse cx="1822.0" cy="1597.0" rx="8.6" ry="7.1" fill="#000" fill-opacity="0.15" stroke="#000" stroke-opacity="0.27" stroke-width="1.5"/>
<ellipse cx="1856.3" cy="1597.0" rx="5.1" ry="5.1" fill="#000" fill-opacity="0.15" stroke="#000" stroke-opacity="0.27" stroke-width="1.5"/>
<ellipse cx="1858.5" cy="1537.9" rx="4.5" ry="4.9" fill="#000" fill-opacity="0.15" stroke="#000" stroke-opacity="0.27" stroke-width="1.5"/>
<ellipse cx="1825.6" cy="1583.4" rx="5.1" ry="5.9" fill="#000" fill-opacity="0.15" stroke="#000" stroke-opacity="0.27" stroke-width="1.5"/>
<ellipse cx="1841.7" cy="1597.0" rx="7.0" ry="8.5" fill="#000" fill-opacity="0.15" stroke="#000" stroke-opacity="0.27" stroke-width="1.5"/>
<ellipse cx="1822.0" cy="1556.1" rx="5.1" ry="4.2" fill="#000" fill-opacity="0.15" stroke="#000" stroke-opacity="0.27" stroke-width="1.5"/>
<ellipse cx="1857.3" cy="1587.4" rx="7.5" ry="6.8" fill="#000" fill-opacity="0.15" stroke="#000" stroke-opacity="0.27" stroke-width="1.5"/>
<ellipse cx="1835.4" cy="1588.8" rx="7.0" ry="6.9" fill="#000" fill-opacity="0.15" stroke="#000" stroke-opacity="0.27" stroke-width="1.5"/>
<ellipse cx="1831.8" cy="1550.6" rx="5.0" ry="6.2" fill="#000" fill-opacity="0.15" stroke="#000" stroke-opacity="0.27" stroke-width="1.5"/>
<ellipse cx="1827.6" cy="1553.2" rx="6.1" ry="5.2" fill="#000" fill-opacity="0.15" stroke="#000" stroke-opacity="0.27" stroke-width="1.5"/>
<ellipse cx="1844.6" cy="1547.1" rx="5.1" ry="4.9" fill="#000" fill-opacity="0.15" stroke="#000" stroke-opacity="0.27" stroke-width="1.5"/>
<ellipse cx="1847.8" cy="1575.7" rx="5.2" ry="6.2" fill="#000" fill-opacity="0.15" stroke="#000" stroke-opacity="0.27" stroke-width="1.5"/>
<ellipse cx="1823.3" cy="1577.7" rx="4.7" ry="4.2" fill="#000" fill-opacity="0.15" stroke="#000" stroke-opacity="0.27" stroke-width="1.5"/>
<ellipse cx="1864.0" cy="1585.3" rx="8.3" ry="7.9" fill="#000" fill-opacity="0.15" stroke="#000" stroke-opacity="0.27" stroke-width="1.5"/>
<ellipse cx="1859.2" cy="1577.0" rx="7.5" ry="5.9" fill="#000" fill-opacity="0.15" stroke="#000" stroke-opacity="0.27" stroke-width="1.5"/>
<ellipse cx="76.0" cy="1731.0" rx="30.0" ry="34.0" fill="url(#g0)" stroke="#555" stroke-width="2.2"/>
<ellipse cx="100.0" cy="1725.0" rx="38.0" ry="40.0" fill="url(#g0)" stroke="#2e2e2e" stroke-width="2.6"/>
<ellipse cx="200.5" cy="1717.0" rx="22.3" ry="25.8" fill="url(#g2)" stroke="#2e2e2e" stroke-width="2.9"/>
<ellipse cx="309.0" cy="1724.5" rx="45.3" ry="38.8" fill="url(#g3)" stroke="#2e2e2e" stroke-width="2.9"/>
<ellipse cx="449.5" cy="1744.0" rx="59.8" ry="58.3" fill="url(#g3)" stroke="#2e2e2e" stroke-width="2.9"/>
<ellipse cx="606.5" cy="1718.8" rx="7.2" ry="8.1" fill="#000" fill-opacity="0.19" stroke="#000" stroke-opacity="0.31" stroke-width="1.5"/>
<ellipse cx="597.5" cy="1717.2" rx="11.0" ry="8.8" fill="#000" fill-opacity="0.19" stroke="#000" stroke-opacity="0.31" stroke-width="1.5"/>
<ellipse cx="592.5" cy="1739.0" rx="7.2" ry="8.7" fill="#000" fill-opacity="0.19" stroke="#000" stroke-opacity="0.31" stroke-width="1.5"/>
<ellipse cx="556.2" cy="1739.0" rx="6.0" ry="4.8" fill="#000" fill-opacity="0.19" stroke="#000" stroke-opacity="0.31" stroke-width="1.5"/>
<ellipse cx="569.8" cy="1739.0" rx="5.0" ry="4.7" fill="#000" fill-opacity="0.19" stroke="#000" stroke-opacity="0.31" stroke-width="1.5"/>
<ellipse cx="586.8" cy="1714.0" rx="5.6" ry="5.3" fill="#000" fill-opacity="0.19" stroke="#000" stroke-opacity="0.31" stroke-width="1.5"/>
<ellipse cx="573.1" cy="1723.6" rx="4.3" ry="4.9" fill="#000" fill-opacity="0.19" stroke="#000" stroke-opacity="0.31" stroke-width="1.5"/>
<ellipse cx="602.0" cy="1709.7" rx="7.5" ry="8.5" fill="#000" fill-opacity="0.19" stroke="#000" stroke-opacity="0.31" stroke-width="1.5"/>
<ellipse cx="577.4" cy="1711.4" rx="7.4" ry="6.7" fill="#000" fill-opacity="0.19" stroke="#000" stroke-opacity="0.31" stroke-width="1.5"/>
<ellipse cx="551.0" cy="1739.0" rx="7.4" ry="6.8" fill="#000" fill-opacity="0.19" stroke="#000" stroke-opacity="0.31" stroke-width="1.5"/>
<ellipse cx="582.0" cy="1714.2" rx="10.0" ry="9.0" fill="#000" fill-opacity="0.19" stroke="#000" stroke-opacity="0.31" stroke-width="1.5"/>
<ellipse cx="551.0" cy="1737.7" rx="6.9" ry="5.3" fill="#000" fill-opacity="0.19" stroke="#000" stroke-opacity="0.31" stroke-width="1.5"/>
<ellipse cx="559.3" cy="1712.1" rx="8.0" ry="7.8" fill="#000" fill-opacity="0.19" stroke="#000" stroke-opacity="0.31" stroke-width="1.5"/>
<ellipse cx="589.4" cy="1739.0" rx="5.1" ry="4.2" fill="#000" fill-opacity="0.19" stroke="#000" stroke-opacity="0.31" stroke-width="1.5"/>
<ellipse cx="574.7" cy="1739.0" rx="9.7" ry="8.9" fill="#000" fill-opacity="0.19" stroke="#000" stroke-opacity="0.31" stroke-width="1.5"/>
<ellipse cx="566.8" cy="1707.2" rx="3.3" ry="4.0" fill="#000" fill-opacity="0.19" stroke="#000" stroke-opacity="0.31" stroke-width="1.5"/>
<ellipse cx="591.0" cy="1737.9" rx="6.5" ry="6.2" fill="#000" fill-opacity="0.19" stroke="#000" stroke-opacity="0.31" stroke-width="1.5"/>
<ellipse cx="583.4" cy="1714.1" rx="5.8" ry="5.1" fill="#000" fill-opacity="0.19" stroke="#000" stroke-opacity="0.31" stroke-width="1.5"/>
<ellipse cx="576.7" cy="1719.6" rx="4.9" ry="5.8" fill="#000" fill-opacity="0.19" stroke="#000" stroke-opacity="0.31" stroke-width="1.5"/>
<ellipse cx="566.8" cy="1728.7" rx="7.6" ry="6.9" fill="#000" fill-opacity="0.19" stroke="#000" stroke-opacity="0.31" stroke-width="1.5"/>
<ellipse cx="583.0" cy="1739.0" rx="5.5" ry="6.4" fill="#000" fill-opacity="0.19" stroke="#000" stroke-opacity="0.31" stroke-width="1.5"/>
<ellipse cx="588.6" cy="1714.6" rx="4.0" ry="4.7" fill="#000" fill-opacity="0.19" stroke="#000" stroke-opacity="0.31" stroke-width="1.5"/>
<ellipse cx="551.0" cy="1693.8" rx="7.9" ry="7.9" fill="#000" fill-opacity="0.19" stroke="#000" stroke-opacity="0.31" stroke-width="1.5"/>
<ellipse cx="575.1" cy="1722.0" rx="7.8" ry="7.2" fill="#000" fill-opacity="0.19" stroke="#000" stroke-opacity="0.31" stroke-width="1.5"/>
<ellipse cx="559.0" cy="1738.7" rx="7.9" ry="6.2" fill="#000" fill-opacity="0.19" stroke="#000" stroke-opacity="0.31" stroke-width="1.5"/>
<ellipse cx="573.8" cy="1707.0" rx="7.0" ry="8.5" fill="#000" fill-opacity="0.19" stroke="#000" stroke-opacity="0.31" stroke-width="1.5"/>
<ellipse cx="687.5" cy="1726.0" rx="37.8" ry="40.3" fill="url(#g0)" stroke="#2e2e2e" stroke-width="2.9"/>
<ellipse cx="816.5" cy="1739.0" rx="55.8" ry="53.3" fill="url(#g3)" stroke="#2e2e2e" stroke-width="2.9"/>
<ellipse cx="960.5" cy="1737.5" rx="52.8" ry="51.8" fill="url(#c2)" stroke="#2e2e2e" stroke-width="2.9"/>
<ellipse cx="1091.0" cy="1727.0" rx="41.3" ry="41.3" fill="url(#g1)" stroke="#2e2e2e" stroke-width="2.9"/>
<ellipse cx="1212.0" cy="1728.5" rx="45.0" ry="43.5" fill="url(#g3)" stroke="#2e2e2e" stroke-width="2.9"/>
<ellipse cx="1205" cy="1739" rx="22" ry="18" fill="#b8b8b8" stroke="#444" stroke-width="2.5"/>
<ellipse cx="1345.0" cy="1737.5" rx="53.3" ry="51.8" fill="url(#g1)" stroke="#2e2e2e" stroke-width="2.9"/>
<ellipse cx="1497.0" cy="1741.5" rx="63.3" ry="55.8" fill="url(#c4)" stroke="#2e2e2e" stroke-width="2.9"/>
<ellipse cx="1667.0" cy="1745.0" rx="71.3" ry="59.3" fill="url(#c4)" stroke="#2e2e2e" stroke-width="2.9"/>
<ellipse cx="1816.5" cy="1728.5" rx="42.8" ry="42.8" fill="url(#g3)" stroke="#2e2e2e" stroke-width="2.9"/>
<ellipse cx="118.5" cy="1908.5" rx="73.8" ry="68.8" fill="url(#c3)" stroke="#2e2e2e" stroke-width="2.9"/>
<ellipse cx="277.0" cy="1872.5" rx="30.8" ry="32.3" fill="url(#g2)" stroke="#2e2e2e" stroke-width="2.9"/>
<ellipse cx="386.5" cy="1868.5" rx="28.3" ry="29.3" fill="url(#g3)" stroke="#2e2e2e" stroke-width="2.9"/>
<ellipse cx="490.5" cy="1884.0" rx="41.8" ry="44.3" fill="url(#g1)" stroke="#2e2e2e" stroke-width="2.9"/>
<ellipse cx="614.5" cy="1889.0" rx="46.8" ry="49.3" fill="url(#g2)" stroke="#2e2e2e" stroke-width="2.9"/>
<ellipse cx="728.8" cy="1865.7" rx="6.4" ry="7.9" fill="#000" fill-opacity="0.15" stroke="#000" stroke-opacity="0.27" stroke-width="1.5"/>
<ellipse cx="703.0" cy="1851.5" rx="4.2" ry="4.7" fill="#000" fill-opacity="0.15" stroke="#000" stroke-opacity="0.27" stroke-width="1.5"/>
<ellipse cx="712.4" cy="1851.5" rx="8.7" ry="7.2" fill="#000" fill-opacity="0.15" stroke="#000" stroke-opacity="0.27" stroke-width="1.5"/>
<ellipse cx="735.1" cy="1871.1" rx="4.5" ry="5.5" fill="#000" fill-opacity="0.15" stroke="#000" stroke-opacity="0.27" stroke-width="1.5"/>
<ellipse cx="751.6" cy="1846.7" rx="6.1" ry="7.6" fill="#000" fill-opacity="0.15" stroke="#000" stroke-opacity="0.27" stroke-width="1.5"/>
<ellipse cx="744.3" cy="1846.0" rx="7.4" ry="6.3" fill="#000" fill-opacity="0.15" stroke="#000" stroke-opacity="0.27" stroke-width="1.5"/>
<ellipse cx="716.5" cy="1863.9" rx="4.1" ry="4.5" fill="#000" fill-opacity="0.15" stroke="#000" stroke-opacity="0.27" stroke-width="1.5"/>
<ellipse cx="743.5" cy="1864.0" rx="8.9" ry="7.7" fill="#000" fill-opacity="0.15" stroke="#000" stroke-opacity="0.27" stroke-width="1.5"/>
<ellipse cx="743.7" cy="1846.0" rx="5.7" ry="5.3" fill="#000" fill-opacity="0.15" stroke="#000" stroke-opacity="0.27" stroke-width="1.5"/>
<ellipse cx="703.0" cy="1870.1" rx="6.2" ry="6.6" fill="#000" fill-opacity="0.15" stroke="#000" stroke-opacity="0.27" stroke-width="1.5"/>
<ellipse cx="703.0" cy="1846.0" rx="6.3" ry="5.1" fill="#000" fill-opacity="0.15" stroke="#000" stroke-opacity="0.27" stroke-width="1.5"/>
<ellipse cx="741.7" cy="1862.1" rx="6.1" ry="5.2" fill="#000" fill-opacity="0.15" stroke="#000" stroke-opacity="0.27" stroke-width="1.5"/>
<ellipse cx="753.0" cy="1853.9" rx="7.0" ry="5.6" fill="#000" fill-opacity="0.15" stroke="#000" stroke-opacity="0.27" stroke-width="1.5"/>
<ellipse cx="722.3" cy="1869.6" rx="9.5" ry="8.5" fill="#000" fill-opacity="0.15" stroke="#000" stroke-opacity="0.27" stroke-width="1.5"/>
<ellipse cx="719.4" cy="1846.0" rx="9.2" ry="8.9" fill="#000" fill-opacity="0.15" stroke="#000" stroke-opacity="0.27" stroke-width="1.5"/>
<ellipse cx="742.6" cy="1846.0" rx="8.4" ry="8.3" fill="#000" fill-opacity="0.15" stroke="#000" stroke-opacity="0.27" stroke-width="1.5"/>
<ellipse cx="840.0" cy="1884.0" rx="45.3" ry="44.3" fill="url(#g1)" stroke="#2e2e2e" stroke-width="2.9"/>
<ellipse cx="968.5" cy="1885.0" rx="47.8" ry="45.3" fill="url(#g2)" stroke="#2e2e2e" stroke-width="2.9"/>
<ellipse cx="1096.0" cy="1884.0" rx="44.3" ry="44.3" fill="url(#g1)" stroke="#2e2e2e" stroke-width="2.9"/>
<ellipse cx="1220.5" cy="1867.5" rx="27.3" ry="26.3" fill="url(#g3)" stroke="#2e2e2e" stroke-width="2.9"/>
<ellipse cx="1318.0" cy="1872.5" rx="24.8" ry="31.3" fill="url(#g2)" stroke="#2e2e2e" stroke-width="2.9"/>
<ellipse cx="1448.5" cy="1894.5" rx="55.8" ry="54.8" fill="url(#c2)" stroke="#2e2e2e" stroke-width="2.9"/>
<ellipse cx="1574.5" cy="1868.5" rx="24.3" ry="27.3" fill="url(#g2)" stroke="#2e2e2e" stroke-width="2.9"/>
<ellipse cx="1674.0" cy="1871.0" rx="29.8" ry="29.8" fill="url(#g2)" stroke="#2e2e2e" stroke-width="2.9"/>
<ellipse cx="1781.3" cy="1886.3" rx="6.0" ry="7.1" fill="#000" fill-opacity="0.11" stroke="#000" stroke-opacity="0.23" stroke-width="1.5"/>
<ellipse cx="1797.7" cy="1868.9" rx="3.5" ry="4.1" fill="#000" fill-opacity="0.11" stroke="#000" stroke-opacity="0.23" stroke-width="1.5"/>
<ellipse cx="1805.8" cy="1867.0" rx="3.8" ry="4.7" fill="#000" fill-opacity="0.11" stroke="#000" stroke-opacity="0.23" stroke-width="1.5"/>
<ellipse cx="1820.0" cy="1881.7" rx="8.2" ry="7.2" fill="#000" fill-opacity="0.11" stroke="#000" stroke-opacity="0.23" stroke-width="1.5"/>
<ellipse cx="1786.2" cy="1867.6" rx="6.8" ry="7.0" fill="#000" fill-opacity="0.11" stroke="#000" stroke-opacity="0.23" stroke-width="1.5"/>
<ellipse cx="1804.3" cy="1846.0" rx="7.0" ry="8.5" fill="#000" fill-opacity="0.11" stroke="#000" stroke-opacity="0.23" stroke-width="1.5"/>
<ellipse cx="1820.0" cy="1846.0" rx="7.4" ry="8.7" fill="#000" fill-opacity="0.11" stroke="#000" stroke-opacity="0.23" stroke-width="1.5"/>
<ellipse cx="1790.0" cy="1883.0" rx="5.1" ry="4.2" fill="#000" fill-opacity="0.11" stroke="#000" stroke-opacity="0.23" stroke-width="1.5"/>
<ellipse cx="1799.2" cy="1850.1" rx="9.1" ry="8.1" fill="#000" fill-opacity="0.11" stroke="#000" stroke-opacity="0.23" stroke-width="1.5"/>
<ellipse cx="1784.5" cy="1882.6" rx="5.3" ry="4.5" fill="#000" fill-opacity="0.11" stroke="#000" stroke-opacity="0.23" stroke-width="1.5"/>
<ellipse cx="1792.5" cy="1889.9" rx="5.0" ry="6.1" fill="#000" fill-opacity="0.11" stroke="#000" stroke-opacity="0.23" stroke-width="1.5"/>
<ellipse cx="1786.1" cy="1889.4" rx="7.5" ry="7.6" fill="#000" fill-opacity="0.11" stroke="#000" stroke-opacity="0.23" stroke-width="1.5"/>
<ellipse cx="1761.6" cy="1901.0" rx="8.0" ry="6.5" fill="#000" fill-opacity="0.11" stroke="#000" stroke-opacity="0.23" stroke-width="1.5"/>
<ellipse cx="1782.7" cy="1871.2" rx="6.2" ry="6.1" fill="#000" fill-opacity="0.11" stroke="#000" stroke-opacity="0.23" stroke-width="1.5"/>
<ellipse cx="1789.9" cy="1857.5" rx="8.0" ry="7.5" fill="#000" fill-opacity="0.11" stroke="#000" stroke-opacity="0.23" stroke-width="1.5"/>
<ellipse cx="1796.4" cy="1901.0" rx="5.4" ry="4.5" fill="#000" fill-opacity="0.11" stroke="#000" stroke-opacity="0.23" stroke-width="1.5"/>
<ellipse cx="1787.5" cy="1875.2" rx="5.9" ry="5.0" fill="#000" fill-opacity="0.11" stroke="#000" stroke-opacity="0.23" stroke-width="1.5"/>
<ellipse cx="1789.0" cy="1874.1" rx="6.7" ry="6.5" fill="#000" fill-opacity="0.11" stroke="#000" stroke-opacity="0.23" stroke-width="1.5"/>
<ellipse cx="1901.0" cy="1876.5" rx="39.3" ry="36.8" fill="url(#g1)" stroke="#2e2e2e" stroke-width="2.9"/>
</g></g>
</svg>
<div class="hw" style="left:49.8px;top:24.1px;transform:scaleX(.825)">ROI</div><div class="hw" style="left:190.1px;top:24.1px;transform:scaleX(.9185)">summary</div>
<div id="sdbox"><div class="hw" style="left:31.8px;top:-1px;transform:scaleX(.925)">Size</div><div class="hw" style="left:200.8px;top:-1px;transform:scaleX(.935)">Distribution</div><div class="hw" style="left:650.4px;top:-1px;transform:scaleX(.92)">in</div><div class="hw" style="left:734.1px;top:-1px;transform:scaleX(.894)">Microns</div></div>
<div id="ctitle">Human Liver Organoid - Size Distribution</div>
<div class="gl" style="top:1381.0px"></div>
<div class="yl" style="top:1358.0px">0</div>
<div class="gl" style="top:1205.0px"></div>
<div class="yl" style="top:1182.0px">10</div>
<div class="gl" style="top:1029.0px"></div>
<div class="yl" style="top:1006.0px">20</div>
<div class="gl" style="top:853.0px"></div>
<div class="yl" style="top:830.0px">30</div>
<div class="gl" style="top:677.0px"></div>
<div class="yl" style="top:654.0px">40</div>
<div class="gl" style="top:501.0px"></div>
<div class="yl" style="top:478.0px">50</div>
<div class="gl" style="top:325.0px"></div>
<div class="yl" style="top:302.0px">60</div>
<div class="bar" style="left:2184.7px;top:1364.9px;width:94px;height:16.1px"></div>
<div class="bar" style="left:2288.2px;top:1329.7px;width:94px;height:51.3px"></div>
<div class="bar" style="left:2391.6px;top:1347.3px;width:94px;height:33.7px"></div>
<div class="bar" style="left:2495.1px;top:1329.7px;width:94px;height:51.3px"></div>
<div class="bar" style="left:2598.6px;top:1153.7px;width:94px;height:227.3px"></div>
<div class="bar" style="left:2702.1px;top:731.3px;width:94px;height:649.7px"></div>
<div class="bar" style="left:2805.5px;top:590.5px;width:94px;height:790.5px"></div>
<div class="bar" style="left:2909.0px;top:731.3px;width:94px;height:649.7px"></div>
<div class="bar" style="left:3012.5px;top:713.7px;width:94px;height:667.3px"></div>
<div class="bar" style="left:3116.0px;top:520.1px;width:94px;height:860.9px"></div>
<div class="bar" style="left:3219.4px;top:872.1px;width:94px;height:508.9px"></div>
<div class="bar" style="left:3322.9px;top:1030.5px;width:94px;height:350.5px"></div>
<div class="bar" style="left:3426.4px;top:1136.1px;width:94px;height:244.9px"></div>
<div class="bar" style="left:3529.9px;top:1329.7px;width:94px;height:51.3px"></div>
<div class="bar" style="left:3633.3px;top:1312.1px;width:94px;height:68.9px"></div>
<div class="bar" style="left:3736.8px;top:1364.9px;width:94px;height:16.1px"></div>
<div class="bar" style="left:3840.3px;top:1364.9px;width:94px;height:16.1px"></div>
<div class="bar" style="left:3943.8px;top:1364.9px;width:94px;height:16.1px"></div>
<div class="bar" style="left:4047.2px;top:1364.9px;width:94px;height:16.1px"></div>
<div class="xl" style="right:1964.3px;top:1409px">20-30</div>
<div class="xl" style="right:1860.8px;top:1409px">30-40</div>
<div class="xl" style="right:1757.3px;top:1409px">40-50</div>
<div class="xl" style="right:1653.8px;top:1409px">50-60</div>
<div class="xl" style="right:1550.4px;top:1409px">60-70</div>
<div class="xl" style="right:1446.9px;top:1409px">70-80</div>
<div class="xl" style="right:1343.4px;top:1409px">80-90</div>
<div class="xl" style="right:1239.9px;top:1409px">90-100</div>
<div class="xl" style="right:1136.5px;top:1409px">100-110</div>
<div class="xl" style="right:1033.0px;top:1409px">110-120</div>
<div class="xl" style="right:929.5px;top:1409px">120-130</div>
<div class="xl" style="right:826.1px;top:1409px">130-140</div>
<div class="xl" style="right:722.6px;top:1409px">140-150</div>
<div class="xl" style="right:619.1px;top:1409px">150-160</div>
<div class="xl" style="right:515.6px;top:1409px">160-170</div>
<div class="xl" style="right:412.2px;top:1409px">170-180</div>
<div class="xl" style="right:308.7px;top:1409px">190-200</div>
<div class="xl" style="right:205.2px;top:1409px">200-210</div>
<div class="xl" style="right:101.7px;top:1409px">210-220</div>
<div id="xt">Diameter (Microns)</div>
<div id="yt">Counts</div>
</body></html>
